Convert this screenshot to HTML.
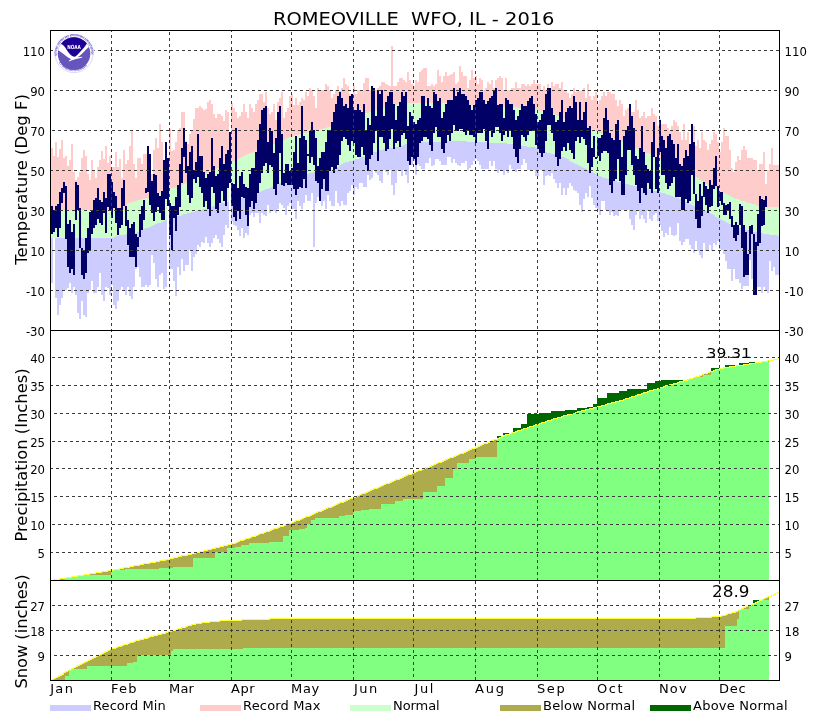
<!DOCTYPE html>
<html lang="en"><head><meta charset="utf-8"><title>ROMEOVILLE WFO, IL - 2016</title>
<style>html,body{margin:0;padding:0;background:#fff}svg{display:block}</style>
</head><body>
<svg width="829" height="720" viewBox="0 0 829 720" font-family='"DejaVu Sans", "Liberation Sans", sans-serif' fill="#000">
<rect width="829" height="720" fill="#fff"/>
<g shape-rendering="crispEdges">
<path d="M51 148H53L53 156H55L55 142H57L57 157H59L59 149H61L61 140H63L63 158H65L65 156H67L67 166H69L69 160H71L71 144H73L73 172H75L75 180H77L77 177H79L79 172H81L81 158H83L83 150H85L85 156H87L87 174H89L89 180H91L91 160H93L93 171H95L95 178H97L97 167H99L99 160H101L101 151H103L103 159H105L105 146H107L107 163H109L109 156H111L111 167H113L113 167H115L115 152H117L117 167H119L119 159H121L121 178H123L123 150H125L125 164H127L127 160H129L129 146H131L131 131H133L133 164H135L135 178H137L137 158H139L139 158H141L141 164H143L143 154H145L145 154H147L147 154H149L149 154H151L151 174H153L153 150H155L155 138H157L157 148H159L159 124H161L161 142H163L163 170H165L165 179H167L167 190H165L165 191H163L163 192H161L161 193H159L159 194H157L157 195H155L155 196H153L153 196H151L151 197H149L149 198H147L147 198H145L145 199H143L143 199H141L141 200H139L139 200H137L137 201H135L135 202H133L133 202H131L131 203H129L129 203H127L127 210H125L125 210H123L123 210H121L121 210H119L119 210H117L117 210H115L115 210H113L113 210H111L111 210H109L109 210H107L107 210H105L105 210H103L103 210H101L101 210H99L99 210H97L97 210H95L95 210H93L93 210H91L91 210H89L89 210H87L87 210H85L85 210H83L83 210H81L81 210H79L79 210H77L77 210H75L75 210H73L73 210H71L71 210H69L69 210H67L67 210H65L65 210H63L63 210H61L61 210H59L59 210H57L57 210H55L55 210H53L53 210H51ZM169 129H171L171 151H173L173 150H175L175 142H177L177 130H179L179 128H181L181 112H183L183 112H185L185 141H187L187 144H189L189 134H191L191 131H193L193 119H195L195 108H197L197 108H199L199 106H201L201 108H203L203 110H205L205 109H207L207 102H209L209 100H211L211 104H213L213 114H215L215 118H217L217 114H219L219 114H221L221 116H223L223 121H225L225 110H227L227 112H229L229 163H227L227 164H225L225 165H223L223 166H221L221 167H219L219 168H217L217 169H215L215 170H213L213 171H211L211 172H209L209 173H207L207 174H205L205 175H203L203 176H201L201 177H199L199 177H197L197 178H195L195 179H193L193 180H191L191 181H189L189 182H187L187 183H185L185 184H183L183 185H181L181 186H179L179 186H177L177 187H175L175 188H173L173 188H171L171 189H169ZM231 103H233L233 108H235L235 112H237L237 118H239L239 116H241L241 112H243L243 104H245L245 112H247L247 118H249L249 104H251L251 108H253L253 112H255L255 104H257L257 100H259L259 94H261L261 94H263L263 102H265L265 92H267L267 108H269L269 114H271L271 112H273L273 104H275L275 120H277L277 102H279L279 98H281L281 92H283L283 118H285L285 112H287L287 108H289L289 96H291L291 94H293L293 105H295L295 98H297L297 105H299L299 102H301L301 98H303L303 100H305L305 92H307L307 96H309L309 88H311L311 90H313L313 96H315L315 108H317L317 88H319L319 90H321L321 90H323L323 90H325L325 84H327L327 86H329L329 90H331L331 98H333L333 94H335L335 90H337L337 86H339L339 91H341L341 88H343L343 78H345L345 84H347L347 86H349L349 94H351L351 94H353L353 86H355L355 94H357L357 90H359L359 90H361L361 91H363L363 83H365L365 78H367L367 78H369L369 90H371L371 86H373L373 88H375L375 90H377L377 88H379L379 86H381L381 82H383L383 82H385L385 84H387L387 85H389L389 86H391L391 46H393L393 86H395L395 86H397L397 82H399L399 78H401L401 78H403L403 80H405L405 82H407L407 72H409L409 80H411L411 84H413L413 86H415L415 80H417L417 82H419L419 72H421L421 70H423L423 68H425L425 68H427L427 86H429L429 86H431L431 84H433L433 86H435L435 84H437L437 70H439L439 76H441L441 82H443L443 76H445L445 72H447L447 76H449L449 75H451L451 74H453L453 72H455L455 84H457L457 82H459L459 66H461L461 72H463L463 76H465L465 76H467L467 88H469L469 80H471L471 70H473L473 78H475L475 76H477L477 84H479L479 78H481L481 80H483L483 90H485L485 88H487L487 82H489L489 84H491L491 80H493L493 88H495L495 80H497L497 78H499L499 76H501L501 78H503L503 90H505L505 78H507L507 90H509L509 90H511L511 88H513L513 88H515L515 82H517L517 88H519L519 88H521L521 84H523L523 84H525L525 86H527L527 84H529L529 86H531L531 84H533L533 80H535L535 84H537L537 84H539L539 84H541L541 90H543L543 86H545L545 90H547L547 84H549L549 88H551L551 82H553L553 86H555L555 84H557L557 84H559L559 88H561L561 82H563L563 90H565L565 90H567L567 93H569L569 98H571L571 94H573L573 88H575L575 92H577L577 91H579L579 91H581L581 91H583L583 88H585L585 98H587L587 84H589L589 96H591L591 100H593L593 96H595L595 92H597L597 104H599L599 100H601L601 96H603L603 92H605L605 96H607L607 92H609L609 92H611L611 94H613L613 94H615L615 100H617L617 106H619L619 100H621L621 104H623L623 116H625L625 110H627L627 108H629L629 108H631L631 112H633L633 112H635L635 100H637L637 110H639L639 118H641L641 116H643L643 112H645L645 118H647L647 116H649L649 116H651L651 108H653L653 114H655L655 116H657L657 126H659L659 119H661L661 124H663L663 124H665L665 124H667L667 128H669L669 131H671L671 126H673L673 120H675L675 122H677L677 126H679L679 132H681L681 140H683L683 124H685L685 140H687L687 132H689L689 144H691L691 125H693L693 126H695L695 146H697L697 140H699L699 148H701L701 132H703L703 140H705L705 142H707L707 150H709L709 144H711L711 140H713L713 132H715L715 134H717L717 142H719L719 152H721L721 142H723L723 128H725L725 136H727L727 136H729L729 150H731L731 168H733L733 172H735L735 162H737L737 156H739L739 160H741L741 150H743L743 146H745L745 150H747L747 158H749L749 158H751L751 158H753L753 160H755L755 160H757L757 170H759L759 164H761L761 164H763L763 152H765L765 184H767L767 170H769L769 164H771L771 148H773L773 165H775L775 165H777L777 165H779L779 207H777L777 207H775L775 207H773L773 207H771L771 207H769L769 207H767L767 207H765L765 207H763L763 206H761L761 206H759L759 206H757L757 205H755L755 204H753L753 204H751L751 203H749L749 203H747L747 202H745L745 201H743L743 201H741L741 200H739L739 199H737L737 199H735L735 198H733L733 197H731L731 196H729L729 195H727L727 194H725L725 193H723L723 192H721L721 191H719L719 190H717L717 188H715L715 188H713L713 187H711L711 186H709L709 185H707L707 184H705L705 183H703L703 181H701L701 180H699L699 178H697L697 177H695L695 176H693L693 175H691L691 174H689L689 173H687L687 172H685L685 171H683L683 170H681L681 169H679L679 168H677L677 167H675L675 166H673L673 165H671L671 164H669L669 163H667L667 162H665L665 161H663L663 160H661L661 159H659L659 158H657L657 157H655L655 156H653L653 155H651L651 154H649L649 153H647L647 153H645L645 152H643L643 151H641L641 150H639L639 149H637L637 148H635L635 147H633L633 146H631L631 145H629L629 145H627L627 144H625L625 143H623L623 142H621L621 141H619L619 140H617L617 139H615L615 139H613L613 138H611L611 137H609L609 136H607L607 135H605L605 134H603L603 134H601L601 133H599L599 132H597L597 131H595L595 130H593L593 129H591L591 129H589L589 128H587L587 127H585L585 126H583L583 126H581L581 125H579L579 124H577L577 123H575L575 123H573L573 122H571L571 121H569L569 120H567L567 120H565L565 119H563L563 118H561L561 117H559L559 116H557L557 115H555L555 114H553L553 114H551L551 113H549L549 113H547L547 112H545L545 112H543L543 111H541L541 111H539L539 110H537L537 110H535L535 110H533L533 110H531L531 109H529L529 109H527L527 109H525L525 108H523L523 108H521L521 108H519L519 108H517L517 107H515L515 107H513L513 107H511L511 107H509L509 107H507L507 107H505L505 107H503L503 107H501L501 106H499L499 106H497L497 106H495L495 106H493L493 106H491L491 106H489L489 106H487L487 106H485L485 106H483L483 106H481L481 106H479L479 105H477L477 105H475L475 105H473L473 105H471L471 105H469L469 105H467L467 105H465L465 105H463L463 104H461L461 104H459L459 104H457L457 104H455L455 104H453L453 103H451L451 103H449L449 103H447L447 103H445L445 103H443L443 103H441L441 103H439L439 103H437L437 103H435L435 103H433L433 103H431L431 103H429L429 103H427L427 103H425L425 103H423L423 103H421L421 103H419L419 103H417L417 103H415L415 103H413L413 103H411L411 103H409L409 103H407L407 103H405L405 103H403L403 104H401L401 104H399L399 104H397L397 105H395L395 105H393L393 106H391L391 106H389L389 107H387L387 107H385L385 108H383L383 108H381L381 109H379L379 110H377L377 110H375L375 111H373L373 111H371L371 112H369L369 113H367L367 113H365L365 114H363L363 115H361L361 115H359L359 116H357L357 117H355L355 118H353L353 118H351L351 119H349L349 120H347L347 121H345L345 121H343L343 122H341L341 123H339L339 124H337L337 125H335L335 125H333L333 126H331L331 127H329L329 127H327L327 128H325L325 128H323L323 129H321L321 129H319L319 130H317L317 130H315L315 130H313L313 131H311L311 131H309L309 132H307L307 133H305L305 133H303L303 134H301L301 134H299L299 135H297L297 135H295L295 136H293L293 137H291L291 137H289L289 138H287L287 139H285L285 140H283L283 140H281L281 141H279L279 142H277L277 143H275L275 144H273L273 144H271L271 145H269L269 146H267L267 147H265L265 148H263L263 148H261L261 149H259L259 150H257L257 151H255L255 152H253L253 153H251L251 153H249L249 154H247L247 155H245L245 156H243L243 157H241L241 158H239L239 159H237L237 160H235L235 161H233L233 161H231Z" fill="#ffcccc"/>
<path d="M51 238H53L53 238H55L55 238H57L57 238H59L59 238H61L61 238H63L63 238H65L65 238H67L67 238H69L69 238H71L71 238H73L73 238H75L75 238H77L77 238H79L79 238H81L81 238H83L83 238H85L85 238H87L87 238H89L89 238H91L91 238H93L93 238H95L95 238H97L97 238H99L99 238H101L101 238H103L103 238H105L105 238H107L107 238H109L109 238H111L111 238H113L113 237H115L115 236H117L117 236H119L119 235H121L121 235H123L123 235H125L125 234H127L127 234H129L129 234H131L131 233H133L133 233H135L135 233H137L137 232H139L139 231H141L141 230H143L143 229H145L145 228H147L147 228H149L149 227H151L151 226H153L153 225H155L155 224H157L157 223H159L159 223H161L161 222H163L163 221H165L165 220H167L167 287H165L165 289H163L163 273H161L161 275H159L159 287H157L157 279H155L155 263H153L153 255H151L151 285H149L149 287H147L147 285H145L145 287H143L143 287H141L141 277H139L139 267H137L137 269H135L135 287H133L133 299H131L131 296H129L129 287H127L127 295H125L125 290H123L123 287H121L121 290H119L119 301H117L117 309H115L115 305H113L113 285H111L111 295H109L109 288H107L107 287H105L105 301H103L103 295H101L101 273H99L99 287H97L97 293H95L95 293H93L93 281H91L91 290H89L89 293H87L87 317H85L85 315H83L83 301H81L81 319H79L79 313H77L77 295H75L75 287H73L73 293H71L71 283H69L69 288H67L67 290H65L65 291H63L63 298H61L61 305H59L59 315H57L57 298H55L55 238H53L53 283H51ZM169 218H171L171 217H173L173 217H175L175 217H177L177 216H179L179 216H181L181 215H183L183 214H185L185 214H187L187 213H189L189 213H191L191 212H193L193 212H195L195 211H197L197 211H199L199 210H201L201 210H203L203 209H205L205 209H207L207 208H209L209 208H211L211 207H213L213 206H215L215 205H217L217 205H219L219 204H221L221 203H223L223 203H225L225 202H227L227 202H229L229 228H227L227 225H225L225 235H223L223 247H221L221 243H219L219 239H217L217 235H215L215 238H213L213 243H211L211 247H209L209 243H207L207 237H205L205 243H203L203 242H201L201 247H199L199 245H197L197 254H195L195 257H193L193 271H191L191 250H189L189 265H187L187 265H185L185 271H183L183 259H181L181 275H179L179 267H177L177 296H175L175 281H173L173 269H171L171 269H169ZM231 201H233L233 200H235L235 200H237L237 199H239L239 198H241L241 198H243L243 197H245L245 196H247L247 196H249L249 195H251L251 195H253L253 194H255L255 194H257L257 193H259L259 192H261L261 191H263L263 190H265L265 189H267L267 189H269L269 188H271L271 187H273L273 186H275L275 185H277L277 184H279L279 183H281L281 183H283L283 182H285L285 181H287L287 181H289L289 180H291L291 179H293L293 179H295L295 178H297L297 177H299L299 176H301L301 176H303L303 175H305L305 174H307L307 174H309L309 173H311L311 173H313L313 172H315L315 172H317L317 172H319L319 172H321L321 171H323L323 171H325L325 171H327L327 171H329L329 171H331L331 170H333L333 169H335L335 169H337L337 167H339L339 165H341L341 164H343L343 163H345L345 162H347L347 162H349L349 161H351L351 161H353L353 160H355L355 159H357L357 159H359L359 158H361L361 157H363L363 157H365L365 156H367L367 155H369L369 154H371L371 153H373L373 152H375L375 152H377L377 151H379L379 150H381L381 150H383L383 149H385L385 149H387L387 149H389L389 148H391L391 148H393L393 147H395L395 147H397L397 147H399L399 146H401L401 146H403L403 145H405L405 144H407L407 144H409L409 143H411L411 143H413L413 143H415L415 142H417L417 142H419L419 142H421L421 142H423L423 142H425L425 142H427L427 142H429L429 142H431L431 142H433L433 142H435L435 142H437L437 142H439L439 142H441L441 142H443L443 142H445L445 141H447L447 141H449L449 141H451L451 141H453L453 141H455L455 141H457L457 141H459L459 141H461L461 141H463L463 141H465L465 141H467L467 142H469L469 142H471L471 142H473L473 142H475L475 142H477L477 142H479L479 142H481L481 142H483L483 142H485L485 142H487L487 143H489L489 143H491L491 143H493L493 143H495L495 143H497L497 143H499L499 143H501L501 143H503L503 143H505L505 143H507L507 144H509L509 144H511L511 144H513L513 144H515L515 144H517L517 145H519L519 145H521L521 146H523L523 146H525L525 146H527L527 147H529L529 147H531L531 147H533L533 147H535L535 148H537L537 148H539L539 149H541L541 150H543L543 151H545L545 152H547L547 153H549L549 153H551L551 154H553L553 154H555L555 155H557L557 155H559L559 156H561L561 157H563L563 157H565L565 158H567L567 159H569L569 161H571L571 162H573L573 163H575L575 164H577L577 165H579L579 166H581L581 167H583L583 168H585L585 169H587L587 170H589L589 171H591L591 172H593L593 173H595L595 174H597L597 175H599L599 176H601L601 177H603L603 178H605L605 178H607L607 179H609L609 180H611L611 181H613L613 181H615L615 181H617L617 182H619L619 182H621L621 183H623L623 183H625L625 184H627L627 184H629L629 185H631L631 185H633L633 186H635L635 186H637L637 187H639L639 187H641L641 188H643L643 188H645L645 189H647L647 189H649L649 190H651L651 190H653L653 191H655L655 191H657L657 192H659L659 192H661L661 193H663L663 193H665L665 194H667L667 195H669L669 195H671L671 196H673L673 197H675L675 197H677L677 198H679L679 199H681L681 200H683L683 201H685L685 202H687L687 203H689L689 204H691L691 205H693L693 206H695L695 207H697L697 207H699L699 208H701L701 209H703L703 210H705L705 211H707L707 212H709L709 213H711L711 214H713L713 215H715L715 217H717L717 218H719L719 219H721L721 220H723L723 221H725L725 222H727L727 223H729L729 224H731L731 225H733L733 225H735L735 226H737L737 227H739L739 228H741L741 228H743L743 229H745L745 230H747L747 230H749L749 231H751L751 231H753L753 232H755L755 232H757L757 233H759L759 233H761L761 233H763L763 234H765L765 234H767L767 234H769L769 235H771L771 235H773L773 235H775L775 235H777L777 236H779L779 275H777L777 275H775L775 267H773L773 271H771L771 261H769L769 293H767L767 291H765L765 287H763L763 293H761L761 287H759L759 287H757L757 288H755L755 288H753L753 279H751L751 260H749L749 286H747L747 286H745L745 286H743L743 289H741L741 283H739L739 279H737L737 279H735L735 269H733L733 281H731L731 269H729L729 269H727L727 261H725L725 254H723L723 250H721L721 249H719L719 241H717L717 245H715L715 243H713L713 251H711L711 245H709L709 251H707L707 251H705L705 243H703L703 258H701L701 255H699L699 251H697L697 241H695L695 253H693L693 249H691L691 245H689L689 239H687L687 239H685L685 242H683L683 245H681L681 241H679L679 223H677L677 235H675L675 236H673L673 235H671L671 227H669L669 235H667L667 233H665L665 237H663L663 231H661L661 225H659L659 221H657L657 213H655L655 215H653L653 221H651L651 219H649L649 211H647L647 223H645L645 219H643L643 215H641L641 219H639L639 211H637L637 215H635L635 230H633L633 225H631L631 219H629L629 210H627L627 210H625L625 210H623L623 210H621L621 210H619L619 216H617L617 215H615L615 216H613L613 212H611L611 215H609L609 211H607L607 210H605L605 201H603L603 201H601L601 215H599L599 210H597L597 208H595L595 205H593L593 198H591L591 186H589L589 197H587L587 193H585L585 199H583L583 212H581L581 205H579L579 193H577L577 191H575L575 190H573L573 186H571L571 183H569L569 188H567L567 195H565L565 188H563L563 195H561L561 183H559L559 188H557L557 183H555L555 179H553L553 173H551L551 176H549L549 175H547L547 176H545L545 185H543L543 170H541L541 170H539L539 176H537L537 176H535L535 170H533L533 170H531L531 170H529L529 170H527L527 163H525L525 159H523L523 165H521L521 169H519L519 169H517L517 172H515L515 171H513L513 169H511L511 165H509L509 173H507L507 170H505L505 175H503L503 170H501L501 170H499L499 173H497L497 169H495L495 161H493L493 166H491L491 161H489L489 169H487L487 169H485L485 169H483L483 169H481L481 165H479L479 161H477L477 159H475L475 161H473L473 165H471L471 168H469L469 170H467L467 161H465L465 163H463L463 163H461L461 166H459L459 165H457L457 163H455L455 159H453L453 163H451L451 157H449L449 157H447L447 165H445L445 165H443L443 165H441L441 161H439L439 159H437L437 159H435L435 165H433L433 166H431L431 158H429L429 163H427L427 163H425L425 169H423L423 169H421L421 166H419L419 164H417L417 175H415L415 161H413L413 165H411L411 165H409L409 183H407L407 175H405L405 170H403L403 176H401L401 170H399L399 170H397L397 183H395L395 195H393L393 185H391L391 170H389L389 175H387L387 172H385L385 170H383L383 183H381L381 181H379L379 175H377L377 173H375L375 170H373L373 178H371L371 180H369L369 175H367L367 187H365L365 187H363L363 183H361L361 183H359L359 189H357L357 187H355L355 195H353L353 185H351L351 191H349L349 193H347L347 205H345L345 205H343L343 201H341L341 206H339L339 203H337L337 191H335L335 206H333L333 206H331L331 201H329L329 195H327L327 209H325L325 201H323L323 206H321L321 201H319L319 197H317L317 203H315L315 247H313L313 193H311L311 201H309L309 201H307L307 195H305L305 203H303L303 209H301L301 206H299L299 201H297L297 219H295L295 209H293L293 209H291L291 203H289L289 206H287L287 215H285L285 208H283L283 205H281L281 203H279L279 209H277L277 213H275L275 211H273L273 211H271L271 213H269L269 205H267L267 216H265L265 215H263L263 213H261L261 223H259L259 213H257L257 213H255L255 217H253L253 213H251L251 215H249L249 235H247L247 233H245L245 238H243L243 228H241L241 236H239L239 230H237L237 226H235L235 225H233L233 221H231Z" fill="#ccccff"/>
<path d="M51 210H53L53 210H55L55 210H57L57 210H59L59 210H61L61 210H63L63 210H65L65 210H67L67 210H69L69 210H71L71 210H73L73 210H75L75 210H77L77 210H79L79 210H81L81 210H83L83 210H85L85 210H87L87 210H89L89 210H91L91 210H93L93 210H95L95 210H97L97 210H99L99 210H101L101 210H103L103 210H105L105 210H107L107 210H109L109 210H111L111 210H113L113 210H115L115 210H117L117 210H119L119 210H121L121 210H123L123 210H125L125 210H127L127 203H129L129 203H131L131 202H133L133 202H135L135 201H137L137 200H139L139 200H141L141 199H143L143 199H145L145 198H147L147 198H149L149 197H151L151 196H153L153 196H155L155 195H157L157 194H159L159 193H161L161 192H163L163 191H165L165 190H167L167 220H165L165 221H163L163 222H161L161 223H159L159 223H157L157 224H155L155 225H153L153 226H151L151 227H149L149 228H147L147 228H145L145 229H143L143 230H141L141 231H139L139 232H137L137 233H135L135 233H133L133 233H131L131 234H129L129 234H127L127 234H125L125 235H123L123 235H121L121 235H119L119 236H117L117 236H115L115 237H113L113 238H111L111 238H109L109 238H107L107 238H105L105 238H103L103 238H101L101 238H99L99 238H97L97 238H95L95 238H93L93 238H91L91 238H89L89 238H87L87 238H85L85 238H83L83 238H81L81 238H79L79 238H77L77 238H75L75 238H73L73 238H71L71 238H69L69 238H67L67 238H65L65 238H63L63 238H61L61 238H59L59 238H57L57 238H55L55 238H53L53 238H51ZM169 189H171L171 188H173L173 188H175L175 187H177L177 186H179L179 186H181L181 185H183L183 184H185L185 183H187L187 182H189L189 181H191L191 180H193L193 179H195L195 178H197L197 177H199L199 177H201L201 176H203L203 175H205L205 174H207L207 173H209L209 172H211L211 171H213L213 170H215L215 169H217L217 168H219L219 167H221L221 166H223L223 165H225L225 164H227L227 163H229L229 202H227L227 202H225L225 203H223L223 203H221L221 204H219L219 205H217L217 205H215L215 206H213L213 207H211L211 208H209L209 208H207L207 209H205L205 209H203L203 210H201L201 210H199L199 211H197L197 211H195L195 212H193L193 212H191L191 213H189L189 213H187L187 214H185L185 214H183L183 215H181L181 216H179L179 216H177L177 217H175L175 217H173L173 217H171L171 218H169ZM231 161H233L233 161H235L235 160H237L237 159H239L239 158H241L241 157H243L243 156H245L245 155H247L247 154H249L249 153H251L251 153H253L253 152H255L255 151H257L257 150H259L259 149H261L261 148H263L263 148H265L265 147H267L267 146H269L269 145H271L271 144H273L273 144H275L275 143H277L277 142H279L279 141H281L281 140H283L283 140H285L285 139H287L287 138H289L289 137H291L291 137H293L293 136H295L295 135H297L297 135H299L299 134H301L301 134H303L303 133H305L305 133H307L307 132H309L309 131H311L311 131H313L313 130H315L315 130H317L317 130H319L319 129H321L321 129H323L323 128H325L325 128H327L327 127H329L329 127H331L331 126H333L333 125H335L335 125H337L337 124H339L339 123H341L341 122H343L343 121H345L345 121H347L347 120H349L349 119H351L351 118H353L353 118H355L355 117H357L357 116H359L359 115H361L361 115H363L363 114H365L365 113H367L367 113H369L369 112H371L371 111H373L373 111H375L375 110H377L377 110H379L379 109H381L381 108H383L383 108H385L385 107H387L387 107H389L389 106H391L391 106H393L393 105H395L395 105H397L397 104H399L399 104H401L401 104H403L403 103H405L405 103H407L407 103H409L409 103H411L411 103H413L413 103H415L415 103H417L417 103H419L419 103H421L421 103H423L423 103H425L425 103H427L427 103H429L429 103H431L431 103H433L433 103H435L435 103H437L437 103H439L439 103H441L441 103H443L443 103H445L445 103H447L447 103H449L449 103H451L451 103H453L453 104H455L455 104H457L457 104H459L459 104H461L461 104H463L463 105H465L465 105H467L467 105H469L469 105H471L471 105H473L473 105H475L475 105H477L477 105H479L479 106H481L481 106H483L483 106H485L485 106H487L487 106H489L489 106H491L491 106H493L493 106H495L495 106H497L497 106H499L499 106H501L501 107H503L503 107H505L505 107H507L507 107H509L509 107H511L511 107H513L513 107H515L515 107H517L517 108H519L519 108H521L521 108H523L523 108H525L525 109H527L527 109H529L529 109H531L531 110H533L533 110H535L535 110H537L537 110H539L539 111H541L541 111H543L543 112H545L545 112H547L547 113H549L549 113H551L551 114H553L553 114H555L555 115H557L557 116H559L559 117H561L561 118H563L563 119H565L565 120H567L567 120H569L569 121H571L571 122H573L573 123H575L575 123H577L577 124H579L579 125H581L581 126H583L583 126H585L585 127H587L587 128H589L589 129H591L591 129H593L593 130H595L595 131H597L597 132H599L599 133H601L601 134H603L603 134H605L605 135H607L607 136H609L609 137H611L611 138H613L613 139H615L615 139H617L617 140H619L619 141H621L621 142H623L623 143H625L625 144H627L627 145H629L629 145H631L631 146H633L633 147H635L635 148H637L637 149H639L639 150H641L641 151H643L643 152H645L645 153H647L647 153H649L649 154H651L651 155H653L653 156H655L655 157H657L657 158H659L659 159H661L661 160H663L663 161H665L665 162H667L667 163H669L669 164H671L671 165H673L673 166H675L675 167H677L677 168H679L679 169H681L681 170H683L683 171H685L685 172H687L687 173H689L689 174H691L691 175H693L693 176H695L695 177H697L697 178H699L699 180H701L701 181H703L703 183H705L705 184H707L707 185H709L709 186H711L711 187H713L713 188H715L715 188H717L717 190H719L719 191H721L721 192H723L723 193H725L725 194H727L727 195H729L729 196H731L731 197H733L733 198H735L735 199H737L737 199H739L739 200H741L741 201H743L743 201H745L745 202H747L747 203H749L749 203H751L751 204H753L753 204H755L755 205H757L757 206H759L759 206H761L761 206H763L763 207H765L765 207H767L767 207H769L769 207H771L771 207H773L773 207H775L775 207H777L777 207H779L779 236H777L777 235H775L775 235H773L773 235H771L771 235H769L769 234H767L767 234H765L765 234H763L763 233H761L761 233H759L759 233H757L757 232H755L755 232H753L753 231H751L751 231H749L749 230H747L747 230H745L745 229H743L743 228H741L741 228H739L739 227H737L737 226H735L735 225H733L733 225H731L731 224H729L729 223H727L727 222H725L725 221H723L723 220H721L721 219H719L719 218H717L717 217H715L715 215H713L713 214H711L711 213H709L709 212H707L707 211H705L705 210H703L703 209H701L701 208H699L699 207H697L697 207H695L695 206H693L693 205H691L691 204H689L689 203H687L687 202H685L685 201H683L683 200H681L681 199H679L679 198H677L677 197H675L675 197H673L673 196H671L671 195H669L669 195H667L667 194H665L665 193H663L663 193H661L661 192H659L659 192H657L657 191H655L655 191H653L653 190H651L651 190H649L649 189H647L647 189H645L645 188H643L643 188H641L641 187H639L639 187H637L637 186H635L635 186H633L633 185H631L631 185H629L629 184H627L627 184H625L625 183H623L623 183H621L621 182H619L619 182H617L617 181H615L615 181H613L613 181H611L611 180H609L609 179H607L607 178H605L605 178H603L603 177H601L601 176H599L599 175H597L597 174H595L595 173H593L593 172H591L591 171H589L589 170H587L587 169H585L585 168H583L583 167H581L581 166H579L579 165H577L577 164H575L575 163H573L573 162H571L571 161H569L569 159H567L567 158H565L565 157H563L563 157H561L561 156H559L559 155H557L557 155H555L555 154H553L553 154H551L551 153H549L549 153H547L547 152H545L545 151H543L543 150H541L541 149H539L539 148H537L537 148H535L535 147H533L533 147H531L531 147H529L529 147H527L527 146H525L525 146H523L523 146H521L521 145H519L519 145H517L517 144H515L515 144H513L513 144H511L511 144H509L509 144H507L507 143H505L505 143H503L503 143H501L501 143H499L499 143H497L497 143H495L495 143H493L493 143H491L491 143H489L489 143H487L487 142H485L485 142H483L483 142H481L481 142H479L479 142H477L477 142H475L475 142H473L473 142H471L471 142H469L469 142H467L467 141H465L465 141H463L463 141H461L461 141H459L459 141H457L457 141H455L455 141H453L453 141H451L451 141H449L449 141H447L447 141H445L445 142H443L443 142H441L441 142H439L439 142H437L437 142H435L435 142H433L433 142H431L431 142H429L429 142H427L427 142H425L425 142H423L423 142H421L421 142H419L419 142H417L417 142H415L415 143H413L413 143H411L411 143H409L409 144H407L407 144H405L405 145H403L403 146H401L401 146H399L399 147H397L397 147H395L395 147H393L393 148H391L391 148H389L389 149H387L387 149H385L385 149H383L383 150H381L381 150H379L379 151H377L377 152H375L375 152H373L373 153H371L371 154H369L369 155H367L367 156H365L365 157H363L363 157H361L361 158H359L359 159H357L357 159H355L355 160H353L353 161H351L351 161H349L349 162H347L347 162H345L345 163H343L343 164H341L341 165H339L339 167H337L337 169H335L335 169H333L333 170H331L331 171H329L329 171H327L327 171H325L325 171H323L323 171H321L321 172H319L319 172H317L317 172H315L315 172H313L313 173H311L311 173H309L309 174H307L307 174H305L305 175H303L303 176H301L301 176H299L299 177H297L297 178H295L295 179H293L293 179H291L291 180H289L289 181H287L287 181H285L285 182H283L283 183H281L281 183H279L279 184H277L277 185H275L275 186H273L273 187H271L271 188H269L269 189H267L267 189H265L265 190H263L263 191H261L261 192H259L259 193H257L257 194H255L255 194H253L253 195H251L251 195H249L249 196H247L247 196H245L245 197H243L243 198H241L241 198H239L239 199H237L237 200H235L235 200H233L233 201H231Z" fill="#ccffcc"/>
<path d="M51 206H53L53 210H55L55 206H57L57 204H59L59 192H61L61 188H63L63 182H65L65 186H67L67 224H69L69 220H71L71 232H73L73 224H75L75 182H77L77 185H79L79 208H81L81 248H83L83 251H85L85 238H87L87 228H89L89 212H91L91 211H93L93 200H95L95 198H97L97 188H99L99 200H101L101 202H103L103 192H105L105 198H107L107 174H109L109 174H111L111 182H113L113 192H115L115 196H117L117 208H119L119 208H121L121 188H123L123 180H125L125 206H127L127 220H129L129 228H131L131 224H133L133 222H135L135 234H137L137 237H139L139 214H141L141 206H143L143 200H145L145 188H147L147 146H149L149 154H151L151 181H153L153 174H155L155 175H157L157 193H159L159 196H161L161 191H163L163 160H165L165 142H167L167 158H169L169 203H171L171 206H173L173 206H175L175 197H177L177 185H179L179 164H181L181 148H183L183 128H185L185 142H187L187 166H189L189 152H191L191 146H193L193 170H195L195 162H197L197 134H199L199 156H201L201 156H203L203 172H205L205 178H207L207 174H209L209 172H211L211 138H213L213 166H215L215 176H217L217 174H219L219 158H221L221 146H223L223 164H225L225 154H227L227 150H229L229 132H231L231 183H233L233 184H235L235 128H237L237 188H239L239 176H241L241 172H243L243 184H245L245 187H247L247 188H249L249 174H251L251 168H253L253 168H255L255 152H257L257 140H259L259 124H261L261 110H263L263 108H265L265 106H267L267 142H269L269 128H271L271 131H273L273 153H275L275 138H277L277 112H279L279 106H281L281 134H283L283 173H285L285 164H287L287 164H289L289 171H291L291 168H293L293 152H295L295 136H297L297 163H299L299 138H301L301 106H303L303 136H305L305 140H307L307 154H309L309 131H311L311 122H313L313 130H315L315 138H317L317 166H319L319 158H321L321 152H323L323 152H325L325 142H327L327 130H329L329 130H331L331 122H333L333 112H335L335 104H337L337 96H339L339 92H341L341 98H343L343 106H345L345 104H347L347 108H349L349 96H351L351 94H353L353 110H355L355 110H357L357 104H359L359 110H361L361 112H363L363 104H365L365 130H367L367 118H369L369 125H371L371 86H373L373 88H375L375 116H377L377 90H379L379 94H381L381 90H383L383 116H385L385 102H387L387 96H389L389 92H391L391 92H393L393 104H395L395 120H397L397 106H399L399 102H401L401 92H403L403 96H405L405 92H407L407 126H409L409 112H411L411 116H413L413 122H415L415 124H417L417 120H419L419 118H421L421 96H423L423 96H425L425 106H427L427 98H429L429 106H431L431 108H433L433 92H435L435 94H437L437 101H439L439 98H441L441 118H443L443 112H445L445 104H447L447 100H449L449 100H451L451 100H453L453 88H455L455 96H457L457 92H459L459 88H461L461 94H463L463 94H465L465 96H467L467 100H469L469 105H471L471 110H473L473 105H475L475 100H477L477 98H479L479 92H481L481 92H483L483 100H485L485 104H487L487 101H489L489 98H491L491 96H493L493 90H495L495 88H497L497 105H499L499 104H501L501 104H503L503 118H505L505 98H507L507 100H509L509 104H511L511 104H513L513 110H515L515 120H517L517 116H519L519 110H521L521 104H523L523 106H525L525 106H527L527 101H529L529 98H531L531 96H533L533 104H535L535 114H537L537 122H539L539 120H541L541 114H543L543 110H545L545 94H547L547 88H549L549 88H551L551 108H553L553 115H555L555 122H557L557 120H559L559 112H561L561 100H563L563 122H565L565 112H567L567 108H569L569 106H571L571 108H573L573 96H575L575 102H577L577 120H579L579 102H581L581 120H583L583 112H585L585 102H587L587 128H589L589 126H591L591 148H593L593 136H595L595 157H597L597 138H599L599 138H601L601 135H603L603 118H605L605 108H607L607 120H609L609 133H611L611 138H613L613 140H615L615 124H617L617 120H619L619 140H621L621 157H623L623 136H625L625 130H627L627 126H629L629 104H631L631 116H633L633 128H635L635 156H637L637 159H639L639 148H641L641 126H643L643 152H645L645 165H647L647 169H649L649 171H651L651 142H653L653 122H655L655 157H657L657 148H659L659 120H661L661 136H663L663 140H665L665 148H667L667 136H669L669 134H671L671 140H673L673 144H675L675 158H677L677 144H679L679 164H681L681 166H683L683 158H685L685 150H687L687 156H689L689 144H691L691 124H693L693 142H695L695 194H697L697 201H699L699 184H701L701 196H703L703 182H705L705 186H707L707 189H709L709 180H711L711 185H713L713 168H715L715 156H717L717 186H719L719 192H721L721 192H723L723 203H725L725 205H727L727 204H729L729 202H731L731 216H733L733 225H735L735 222H737L737 225H739L739 204H741L741 206H743L743 225H745L745 232H747L747 254H749L749 226H751L751 225H753L753 234H755L755 242H757L757 214H759L759 196H761L761 199H763L763 200H765L765 196H767L767 207H765L765 225H763L763 226H761L761 243H759L759 246H757L757 295H755L755 295H753L753 234H751L751 254H749L749 275H747L747 275H745L745 277H743L743 248H741L741 225H739L739 235H737L737 241H735L735 238H733L733 227H731L731 219H729L729 211H727L727 215H725L725 215H723L723 205H721L721 201H719L719 207H717L717 186H715L715 189H713L713 206H711L711 207H709L709 213H707L707 205H705L705 197H703L703 216H701L701 228H699L699 228H697L697 219H695L695 194H693L693 175H691L691 201H689L689 203H687L687 199H685L685 210H683L683 210H681L681 197H679L679 197H677L677 197H675L675 177H673L673 183H671L671 186H669L669 189H667L667 183H665L665 175H663L663 175H661L661 152H659L659 193H657L657 189H655L655 157H653L653 193H651L651 189H649L649 183H647L647 195H645L645 193H643L643 188H641L641 203H639L639 191H637L637 185H635L635 175H633L633 165H631L631 150H629L629 150H627L627 175H625L625 195H623L623 195H621L621 181H619L619 159H617L617 179H615L615 181H613L613 193H611L611 185H609L609 153H607L607 151H605L605 151H603L603 153H601L601 161H599L599 156H597L597 159H595L595 157H593L593 167H591L591 173H589L589 163H587L587 145H585L585 139H583L583 137H581L581 143H579L579 137H577L577 141H575L575 159H573L573 153H571L571 150H569L569 143H567L567 151H565L565 147H563L563 151H561L561 159H559L559 166H557L557 157H555L555 141H553L553 133H551L551 125H549L549 125H547L547 141H545L545 153H543L543 157H541L541 153H539L539 149H537L537 145H535L535 131H533L533 131H531L531 131H529L529 135H527L527 141H525L525 137H523L523 135H521L521 149H519L519 163H517L517 157H515L515 149H513L513 137H511L511 131H509L509 137H507L507 131H505L505 135H503L503 141H501L501 133H499L499 127H497L497 127H495L495 133H493L493 137H491L491 131H489L489 149H487L487 141H485L485 129H483L483 133H481L481 133H479L479 133H477L477 143H475L475 137H473L473 135H471L471 135H469L469 131H467L467 135H465L465 132H463L463 129H461L461 129H459L459 131H457L457 131H455L455 125H453L453 133H451L451 141H449L449 135H447L447 143H445L445 153H443L443 149H441L441 137H439L439 137H437L437 127H435L435 133H433L433 151H431L431 145H429L429 139H427L427 137H425L425 137H423L423 141H421L421 143H419L419 157H417L417 165H415L415 159H413L413 157H411L411 165H409L409 161H407L407 139H405L405 133H403L403 135H401L401 147H399L399 141H397L397 143H395L395 149H393L393 129H391L391 139H389L389 149H387L387 151H385L385 143H383L383 137H381L381 137H379L379 161H377L377 131H375L375 143H373L373 155H371L371 159H369L369 171H367L367 165H365L365 155H363L363 147H361L361 157H359L359 157H357L357 155H355L355 143H353L353 141H351L351 151H349L349 145H347L347 139H345L345 137H343L343 141H341L341 155H339L339 165H337L337 169H335L335 173H333L333 167H331L331 171H329L329 191H327L327 191H325L325 179H323L323 189H321L321 201H319L319 183H317L317 181H315L315 165H313L313 157H311L311 163H309L309 156H307L307 188H305L305 179H303L303 188H301L301 187H299L299 189H297L297 195H295L295 189H293L293 185H291L291 185H289L289 185H287L287 183H285L285 186H283L283 185H281L281 153H279L279 184H277L277 195H275L275 189H273L273 167H271L271 165H269L269 173H267L267 163H265L265 166H263L263 173H261L261 183H259L259 193H257L257 203H255L255 209H253L253 201H251L251 207H249L249 226H247L247 215H245L245 198H243L243 197H241L241 219H239L239 211H237L237 221H235L235 217H233L233 206H231L231 183H229L229 188H227L227 206H225L225 201H223L223 191H221L221 203H219L219 213H217L217 209H215L215 193H213L213 187H211L211 216H209L209 209H207L207 201H205L205 207H203L203 193H201L201 187H199L199 177H197L197 183H195L195 179H193L193 198H191L191 203H189L189 195H187L187 173H185L185 157H183L183 183H181L181 207H179L179 215H177L177 231H175L175 218H173L173 250H171L171 235H169L169 206H167L167 199H165L165 220H163L163 220H161L161 213H159L159 207H157L157 212H155L155 221H153L153 213H151L151 205H149L149 192H147L147 193H145L145 220H143L143 230H141L141 237H139L139 247H137L137 267H135L135 257H133L133 257H131L131 257H129L129 245H127L127 226H125L125 206H123L123 225H121L121 228H119L119 235H117L117 223H115L115 208H113L113 218H111L111 210H109L109 207H107L107 233H105L105 213H103L103 225H101L101 223H99L99 219H97L97 225H95L95 228H93L93 234H91L91 250H89L89 253H87L87 273H85L85 279H83L83 275H81L81 248H79L79 210H77L77 220H75L75 275H73L73 269H71L71 273H69L69 267H67L67 239H65L65 193H63L63 203H61L61 228H59L59 237H57L57 228H55L55 232H53L53 234H51Z" fill="#000066"/>
<path d="M51 580H53L53 580H55L55 580H57L57 580H59L59 580H61L61 580H63L63 580H65L65 578H67L67 578H69L69 578H71L71 576H73L73 576H75L75 576H77L77 576H79L79 576H81L81 576H83L83 575H85L85 575H87L87 575H89L89 575H91L91 575H93L93 575H95L95 575H97L97 575H99L99 575H101L101 575H103L103 575H105L105 575H107L107 575H109L109 575H111L111 570H113L113 570H115L115 570H117L117 570H119L119 570H121L121 570H123L123 570H125L125 569H127L127 569H129L129 569H131L131 569H133L133 569H135L135 569H137L137 569H139L139 569H141L141 569H143L143 569H145L145 569H147L147 569H149L149 569H151L151 569H153L153 569H155L155 569H157L157 569H159L159 568H161L161 568H163L163 568H165L165 568H167L167 568H169L169 568H171L171 568H173L173 567H175L175 567H177L177 567H179L179 567H181L181 567H183L183 567H185L185 567H187L187 567H189L189 567H191L191 567H193L193 558H195L195 558H197L197 558H199L199 558H201L201 558H203L203 558H205L205 558H207L207 558H209L209 558H211L211 558H213L213 558H215L215 552H217L217 552H219L219 552H221L221 552H223L223 552H225L225 552H227L227 548H229L229 548H231L231 548H233L233 548H235L235 547H237L237 547H239L239 547H241L241 545H243L243 545H245L245 545H247L247 545H249L249 543H251L251 543H253L253 543H255L255 543H257L257 543H259L259 543H261L261 543H263L263 543H265L265 543H267L267 543H269L269 542H271L271 542H273L273 542H275L275 542H277L277 542H279L279 542H281L281 542H283L283 536H285L285 536H287L287 536H289L289 530H291L291 530H293L293 530H295L295 530H297L297 530H299L299 529H301L301 529H303L303 529H305L305 528H307L307 524H309L309 524H311L311 520H313L313 520H315L315 518H317L317 518H319L319 518H321L321 518H323L323 518H325L325 518H327L327 518H329L329 518H331L331 518H333L333 518H335L335 518H337L337 518H339L339 516H341L341 516H343L343 516H345L345 515H347L347 515H349L349 515H351L351 515H353L353 511H355L355 511H357L357 511H359L359 511H361L361 510H363L363 510H365L365 510H367L367 510H369L369 509H371L371 509H373L373 509H375L375 509H377L377 509H379L379 509H381L381 504H383L383 504H385L385 504H387L387 504H389L389 504H391L391 504H393L393 504H395L395 501H397L397 501H399L399 501H401L401 501H403L403 499H405L405 499H407L407 499H409L409 499H411L411 499H413L413 499H415L415 499H417L417 499H419L419 499H421L421 499H423L423 492H425L425 492H427L427 492H429L429 492H431L431 492H433L433 492H435L435 492H437L437 486H439L439 486H441L441 486H443L443 486H445L445 478H447L447 478H449L449 478H451L451 478H453L453 469H455L455 469H457L457 463H459L459 463H461L461 463H463L463 463H465L465 463H467L467 463H469L469 459H471L471 459H473L473 459H475L475 457H477L477 457H479L479 457H481L481 457H483L483 457H485L485 457H487L487 457H489L489 457H491L491 457H493L493 457H495L495 457H497L497 438H499L499 437H501L501 436H503L503 435H505L505 434H507L507 434H509L509 433H511L511 433H513L513 432H515L515 431H517L517 430H519L519 430H521L521 429H523L523 428H525L525 428H527L527 427H529L529 426H531L531 426H533L533 425H535L535 424H537L537 424H539L539 423H541L541 422H543L543 422H545L545 421H547L547 420H549L549 420H551L551 419H553L553 418H555L555 418H557L557 417H559L559 417H561L561 416H563L563 415H565L565 415H567L567 414H569L569 414H571L571 413H573L573 413H575L575 412H577L577 411H579L579 411H581L581 410H583L583 410H585L585 409H587L587 409H589L589 408H591L591 408H593L593 407H595L595 407H597L597 406H599L599 406H601L601 405H603L603 405H605L605 404H607L607 403H609L609 403H611L611 402H613L613 402H615L615 401H617L617 401H619L619 400H621L621 400H623L623 399H625L625 398H627L627 398H629L629 397H631L631 396H633L633 396H635L635 395H637L637 394H639L639 394H641L641 393H643L643 392H645L645 392H647L647 391H649L649 390H651L651 390H653L653 389H655L655 389H657L657 388H659L659 387H661L661 387H663L663 386H665L665 385H667L667 385H669L669 384H671L671 384H673L673 383H675L675 383H677L677 382H679L679 381H681L681 381H683L683 380H685L685 380H687L687 379H689L689 379H691L691 379H693L693 379H695L695 377H697L697 377H699L699 377H701L701 377H703L703 375H705L705 375H707L707 375H709L709 375H711L711 371H713L713 370H715L715 369H717L717 369H719L719 368H721L721 368H723L723 368H725L725 367H727L727 367H729L729 366H731L731 366H733L733 366H735L735 365H737L737 365H739L739 365H741L741 365H743L743 364H745L745 364H747L747 364H749L749 363H751L751 363H753L753 363H755L755 362H757L757 362H759L759 362H761L761 362H763L763 362H765L765 362H767L767 362H769L769 580H767L767 580H765L765 580H763L763 580H761L761 580H759L759 580H757L757 580H755L755 580H753L753 580H751L751 580H749L749 580H747L747 580H745L745 580H743L743 580H741L741 580H739L739 580H737L737 580H735L735 580H733L733 580H731L731 580H729L729 580H727L727 580H725L725 580H723L723 580H721L721 580H719L719 580H717L717 580H715L715 580H713L713 580H711L711 580H709L709 580H707L707 580H705L705 580H703L703 580H701L701 580H699L699 580H697L697 580H695L695 580H693L693 580H691L691 580H689L689 580H687L687 580H685L685 580H683L683 580H681L681 580H679L679 580H677L677 580H675L675 580H673L673 580H671L671 580H669L669 580H667L667 580H665L665 580H663L663 580H661L661 580H659L659 580H657L657 580H655L655 580H653L653 580H651L651 580H649L649 580H647L647 580H645L645 580H643L643 580H641L641 580H639L639 580H637L637 580H635L635 580H633L633 580H631L631 580H629L629 580H627L627 580H625L625 580H623L623 580H621L621 580H619L619 580H617L617 580H615L615 580H613L613 580H611L611 580H609L609 580H607L607 580H605L605 580H603L603 580H601L601 580H599L599 580H597L597 580H595L595 580H593L593 580H591L591 580H589L589 580H587L587 580H585L585 580H583L583 580H581L581 580H579L579 580H577L577 580H575L575 580H573L573 580H571L571 580H569L569 580H567L567 580H565L565 580H563L563 580H561L561 580H559L559 580H557L557 580H555L555 580H553L553 580H551L551 580H549L549 580H547L547 580H545L545 580H543L543 580H541L541 580H539L539 580H537L537 580H535L535 580H533L533 580H531L531 580H529L529 580H527L527 580H525L525 580H523L523 580H521L521 580H519L519 580H517L517 580H515L515 580H513L513 580H511L511 580H509L509 580H507L507 580H505L505 580H503L503 580H501L501 580H499L499 580H497L497 580H495L495 580H493L493 580H491L491 580H489L489 580H487L487 580H485L485 580H483L483 580H481L481 580H479L479 580H477L477 580H475L475 580H473L473 580H471L471 580H469L469 580H467L467 580H465L465 580H463L463 580H461L461 580H459L459 580H457L457 580H455L455 580H453L453 580H451L451 580H449L449 580H447L447 580H445L445 580H443L443 580H441L441 580H439L439 580H437L437 580H435L435 580H433L433 580H431L431 580H429L429 580H427L427 580H425L425 580H423L423 580H421L421 580H419L419 580H417L417 580H415L415 580H413L413 580H411L411 580H409L409 580H407L407 580H405L405 580H403L403 580H401L401 580H399L399 580H397L397 580H395L395 580H393L393 580H391L391 580H389L389 580H387L387 580H385L385 580H383L383 580H381L381 580H379L379 580H377L377 580H375L375 580H373L373 580H371L371 580H369L369 580H367L367 580H365L365 580H363L363 580H361L361 580H359L359 580H357L357 580H355L355 580H353L353 580H351L351 580H349L349 580H347L347 580H345L345 580H343L343 580H341L341 580H339L339 580H337L337 580H335L335 580H333L333 580H331L331 580H329L329 580H327L327 580H325L325 580H323L323 580H321L321 580H319L319 580H317L317 580H315L315 580H313L313 580H311L311 580H309L309 580H307L307 580H305L305 580H303L303 580H301L301 580H299L299 580H297L297 580H295L295 580H293L293 580H291L291 580H289L289 580H287L287 580H285L285 580H283L283 580H281L281 580H279L279 580H277L277 580H275L275 580H273L273 580H271L271 580H269L269 580H267L267 580H265L265 580H263L263 580H261L261 580H259L259 580H257L257 580H255L255 580H253L253 580H251L251 580H249L249 580H247L247 580H245L245 580H243L243 580H241L241 580H239L239 580H237L237 580H235L235 580H233L233 580H231L231 580H229L229 580H227L227 580H225L225 580H223L223 580H221L221 580H219L219 580H217L217 580H215L215 580H213L213 580H211L211 580H209L209 580H207L207 580H205L205 580H203L203 580H201L201 580H199L199 580H197L197 580H195L195 580H193L193 580H191L191 580H189L189 580H187L187 580H185L185 580H183L183 580H181L181 580H179L179 580H177L177 580H175L175 580H173L173 580H171L171 580H169L169 580H167L167 580H165L165 580H163L163 580H161L161 580H159L159 580H157L157 580H155L155 580H153L153 580H151L151 580H149L149 580H147L147 580H145L145 580H143L143 580H141L141 580H139L139 580H137L137 580H135L135 580H133L133 580H131L131 580H129L129 580H127L127 580H125L125 580H123L123 580H121L121 580H119L119 580H117L117 580H115L115 580H113L113 580H111L111 580H109L109 580H107L107 580H105L105 580H103L103 580H101L101 580H99L99 580H97L97 580H95L95 580H93L93 580H91L91 580H89L89 580H87L87 580H85L85 580H83L83 580H81L81 580H79L79 580H77L77 580H75L75 580H73L73 580H71L71 580H69L69 580H67L67 580H65L65 580H63L63 580H61L61 580H59L59 580H57L57 580H55L55 580H53L53 580H51Z" fill="#80ff80"/>
<path d="M51 580H53L53 579H55L55 579H57L57 579H59L59 578H61L61 578H63L63 578H65L65 577H67L67 577H69L69 577H71L71 576H73L73 576H75L75 576H77L77 575H79L79 575H81L81 575H83L83 574H85L85 574H87L87 574H89L89 573H91L91 573H93L93 573H95L95 572H97L97 572H99L99 572H101L101 571H103L103 571H105L105 571H107L107 570H109L109 570H111L111 570H113L113 569H115L115 569H117L117 569H119L119 568H121L121 568H123L123 567H125L125 567H127L127 567H129L129 566H131L131 566H133L133 565H135L135 565H137L137 565H139L139 564H141L141 564H143L143 563H145L145 563H147L147 563H149L149 562H151L151 562H153L153 562H155L155 561H157L157 561H159L159 560H161L161 560H163L163 560H165L165 559H167L167 559H169L169 558H171L171 558H173L173 557H175L175 557H177L177 556H179L179 556H181L181 555H183L183 555H185L185 555H187L187 554H189L189 554H191L191 553H193L193 553H195L195 552H197L197 552H199L199 551H201L201 551H203L203 550H205L205 550H207L207 549H209L209 549H211L211 548H213L213 548H215L215 547H217L217 547H219L219 546H221L221 546H223L223 545H225L225 545H227L227 544H229L229 544H231L231 543H233L233 543H235L235 542H237L237 541H239L239 540H241L241 540H243L243 539H245L245 538H247L247 538H249L249 537H251L251 536H253L253 536H255L255 535H257L257 534H259L259 533H261L261 533H263L263 532H265L265 531H267L267 531H269L269 530H271L271 529H273L273 528H275L275 528H277L277 527H279L279 526H281L281 526H283L283 525H285L285 524H287L287 523H289L289 523H291L291 522H293L293 521H295L295 520H297L297 520H299L299 519H301L301 518H303L303 517H305L305 516H307L307 516H309L309 515H311L311 514H313L313 513H315L315 512H317L317 511H319L319 511H321L321 510H323L323 509H325L325 508H327L327 507H329L329 507H331L331 506H333L333 505H335L335 504H337L337 503H339L339 502H341L341 502H343L343 501H345L345 500H347L347 499H349L349 498H351L351 498H353L353 497H355L355 496H357L357 495H359L359 494H361L361 493H363L363 493H365L365 492H367L367 491H369L369 490H371L371 489H373L373 488H375L375 488H377L377 487H379L379 486H381L381 485H383L383 484H385L385 483H387L387 483H389L389 482H391L391 481H393L393 480H395L395 479H397L397 479H399L399 478H401L401 477H403L403 476H405L405 475H407L407 474H409L409 474H411L411 473H413L413 472H415L415 471H417L417 470H419L419 470H421L421 469H423L423 468H425L425 467H427L427 467H429L429 466H431L431 465H433L433 464H435L435 463H437L437 462H439L439 462H441L441 461H443L443 460H445L445 459H447L447 458H449L449 457H451L451 457H453L453 456H455L455 455H457L457 454H459L459 453H461L461 453H463L463 452H465L465 451H467L467 450H469L469 449H471L471 448H473L473 448H475L475 447H477L477 446H479L479 445H481L481 444H483L483 443H485L485 443H487L487 442H489L489 441H491L491 440H493L493 439H495L495 439H497L497 438H499L499 437H501L501 436H503L503 435H505L505 434H507L507 434H509L509 433H511L511 432H513L513 432H515L515 431H517L517 430H519L519 430H521L521 429H523L523 428H525L525 428H527L527 427H529L529 426H531L531 426H533L533 425H535L535 424H537L537 424H539L539 423H541L541 422H543L543 422H545L545 421H547L547 420H549L549 420H551L551 419H553L553 418H555L555 418H557L557 417H559L559 417H561L561 416H563L563 415H565L565 415H567L567 414H569L569 414H571L571 413H573L573 413H575L575 412H577L577 411H579L579 411H581L581 410H583L583 410H585L585 409H587L587 409H589L589 408H591L591 408H593L593 407H595L595 407H597L597 406H599L599 406H601L601 405H603L603 405H605L605 404H607L607 403H609L609 403H611L611 402H613L613 402H615L615 401H617L617 401H619L619 400H621L621 400H623L623 399H625L625 398H627L627 398H629L629 397H631L631 396H633L633 396H635L635 395H637L637 394H639L639 394H641L641 393H643L643 392H645L645 392H647L647 391H649L649 390H651L651 390H653L653 389H655L655 389H657L657 388H659L659 387H661L661 387H663L663 386H665L665 385H667L667 385H669L669 384H671L671 384H673L673 383H675L675 383H677L677 382H679L679 381H681L681 381H683L683 380H685L685 380H687L687 379H689L689 378H691L691 378H693L693 377H695L695 376H697L697 376H699L699 375H701L701 374H703L703 373H705L705 373H707L707 372H709L709 371H711L711 371H713L713 370H715L715 369H717L717 369H719L719 368H721L721 368H723L723 367H725L725 367H727L727 367H729L729 366H731L731 366H733L733 366H735L735 365H737L737 365H739L739 365H741L741 365H743L743 364H745L745 364H747L747 364H749L749 363H751L751 363H753L753 363H755L755 362H757L757 362H759L759 362H761L761 361H763L763 361H765L765 361H767L767 360H769L769 362H767L767 362H765L765 362H763L763 362H761L761 362H759L759 362H757L757 362H755L755 363H753L753 363H751L751 363H749L749 364H747L747 364H745L745 364H743L743 365H741L741 365H739L739 365H737L737 365H735L735 366H733L733 366H731L731 366H729L729 367H727L727 367H725L725 368H723L723 368H721L721 368H719L719 369H717L717 369H715L715 370H713L713 371H711L711 375H709L709 375H707L707 375H705L705 375H703L703 377H701L701 377H699L699 377H697L697 377H695L695 379H693L693 379H691L691 379H689L689 379H687L687 380H685L685 380H683L683 381H681L681 381H679L679 382H677L677 383H675L675 383H673L673 384H671L671 384H669L669 385H667L667 385H665L665 386H663L663 387H661L661 387H659L659 388H657L657 389H655L655 389H653L653 390H651L651 390H649L649 391H647L647 392H645L645 392H643L643 393H641L641 394H639L639 394H637L637 395H635L635 396H633L633 396H631L631 397H629L629 398H627L627 398H625L625 399H623L623 400H621L621 400H619L619 401H617L617 401H615L615 402H613L613 402H611L611 403H609L609 403H607L607 404H605L605 405H603L603 405H601L601 406H599L599 406H597L597 407H595L595 407H593L593 408H591L591 408H589L589 409H587L587 409H585L585 410H583L583 410H581L581 411H579L579 411H577L577 412H575L575 413H573L573 413H571L571 414H569L569 414H567L567 415H565L565 415H563L563 416H561L561 417H559L559 417H557L557 418H555L555 418H553L553 419H551L551 420H549L549 420H547L547 421H545L545 422H543L543 422H541L541 423H539L539 424H537L537 424H535L535 425H533L533 426H531L531 426H529L529 427H527L527 428H525L525 428H523L523 429H521L521 430H519L519 430H517L517 431H515L515 432H513L513 433H511L511 433H509L509 434H507L507 434H505L505 435H503L503 436H501L501 437H499L499 438H497L497 457H495L495 457H493L493 457H491L491 457H489L489 457H487L487 457H485L485 457H483L483 457H481L481 457H479L479 457H477L477 457H475L475 459H473L473 459H471L471 459H469L469 463H467L467 463H465L465 463H463L463 463H461L461 463H459L459 463H457L457 469H455L455 469H453L453 478H451L451 478H449L449 478H447L447 478H445L445 486H443L443 486H441L441 486H439L439 486H437L437 492H435L435 492H433L433 492H431L431 492H429L429 492H427L427 492H425L425 492H423L423 499H421L421 499H419L419 499H417L417 499H415L415 499H413L413 499H411L411 499H409L409 499H407L407 499H405L405 499H403L403 501H401L401 501H399L399 501H397L397 501H395L395 504H393L393 504H391L391 504H389L389 504H387L387 504H385L385 504H383L383 504H381L381 509H379L379 509H377L377 509H375L375 509H373L373 509H371L371 509H369L369 510H367L367 510H365L365 510H363L363 510H361L361 511H359L359 511H357L357 511H355L355 511H353L353 515H351L351 515H349L349 515H347L347 515H345L345 516H343L343 516H341L341 516H339L339 518H337L337 518H335L335 518H333L333 518H331L331 518H329L329 518H327L327 518H325L325 518H323L323 518H321L321 518H319L319 518H317L317 518H315L315 520H313L313 520H311L311 524H309L309 524H307L307 528H305L305 529H303L303 529H301L301 529H299L299 530H297L297 530H295L295 530H293L293 530H291L291 530H289L289 536H287L287 536H285L285 536H283L283 542H281L281 542H279L279 542H277L277 542H275L275 542H273L273 542H271L271 542H269L269 543H267L267 543H265L265 543H263L263 543H261L261 543H259L259 543H257L257 543H255L255 543H253L253 543H251L251 543H249L249 545H247L247 545H245L245 545H243L243 545H241L241 547H239L239 547H237L237 547H235L235 548H233L233 548H231L231 548H229L229 548H227L227 552H225L225 552H223L223 552H221L221 552H219L219 552H217L217 552H215L215 558H213L213 558H211L211 558H209L209 558H207L207 558H205L205 558H203L203 558H201L201 558H199L199 558H197L197 558H195L195 558H193L193 567H191L191 567H189L189 567H187L187 567H185L185 567H183L183 567H181L181 567H179L179 567H177L177 567H175L175 567H173L173 568H171L171 568H169L169 568H167L167 568H165L165 568H163L163 568H161L161 568H159L159 569H157L157 569H155L155 569H153L153 569H151L151 569H149L149 569H147L147 569H145L145 569H143L143 569H141L141 569H139L139 569H137L137 569H135L135 569H133L133 569H131L131 569H129L129 569H127L127 569H125L125 570H123L123 570H121L121 570H119L119 570H117L117 570H115L115 570H113L113 570H111L111 575H109L109 575H107L107 575H105L105 575H103L103 575H101L101 575H99L99 575H97L97 575H95L95 575H93L93 575H91L91 575H89L89 575H87L87 575H85L85 575H83L83 576H81L81 576H79L79 576H77L77 576H75L75 576H73L73 576H71L71 578H69L69 578H67L67 578H65L65 580H63L63 580H61L61 580H59L59 580H57L57 580H55L55 580H53L53 580H51Z" fill="#adab4c"/>
<path d="M51 580H53L53 579H55L55 579H57L57 579H59L59 578H61L61 578H63L63 578H65L65 577H67L67 577H69L69 577H71L71 576H73L73 576H75L75 576H77L77 575H79L79 575H81L81 575H83L83 574H85L85 574H87L87 574H89L89 573H91L91 573H93L93 573H95L95 572H97L97 572H99L99 572H101L101 571H103L103 571H105L105 571H107L107 570H109L109 570H111L111 570H113L113 569H115L115 569H117L117 569H119L119 568H121L121 568H123L123 567H125L125 567H127L127 567H129L129 566H131L131 566H133L133 565H135L135 565H137L137 565H139L139 564H141L141 564H143L143 563H145L145 563H147L147 563H149L149 562H151L151 562H153L153 562H155L155 561H157L157 561H159L159 560H161L161 560H163L163 560H165L165 559H167L167 559H169L169 558H171L171 558H173L173 557H175L175 557H177L177 556H179L179 556H181L181 555H183L183 555H185L185 555H187L187 554H189L189 554H191L191 553H193L193 553H195L195 552H197L197 552H199L199 551H201L201 551H203L203 550H205L205 550H207L207 549H209L209 549H211L211 548H213L213 548H215L215 547H217L217 547H219L219 546H221L221 546H223L223 545H225L225 545H227L227 544H229L229 544H231L231 543H233L233 543H235L235 542H237L237 541H239L239 540H241L241 540H243L243 539H245L245 538H247L247 538H249L249 537H251L251 536H253L253 536H255L255 535H257L257 534H259L259 533H261L261 533H263L263 532H265L265 531H267L267 531H269L269 530H271L271 529H273L273 528H275L275 528H277L277 527H279L279 526H281L281 526H283L283 525H285L285 524H287L287 523H289L289 523H291L291 522H293L293 521H295L295 520H297L297 520H299L299 519H301L301 518H303L303 517H305L305 516H307L307 516H309L309 515H311L311 514H313L313 513H315L315 512H317L317 511H319L319 511H321L321 510H323L323 509H325L325 508H327L327 507H329L329 507H331L331 506H333L333 505H335L335 504H337L337 503H339L339 502H341L341 502H343L343 501H345L345 500H347L347 499H349L349 498H351L351 498H353L353 497H355L355 496H357L357 495H359L359 494H361L361 493H363L363 493H365L365 492H367L367 491H369L369 490H371L371 489H373L373 488H375L375 488H377L377 487H379L379 486H381L381 485H383L383 484H385L385 483H387L387 483H389L389 482H391L391 481H393L393 480H395L395 479H397L397 479H399L399 478H401L401 477H403L403 476H405L405 475H407L407 474H409L409 474H411L411 473H413L413 472H415L415 471H417L417 470H419L419 470H421L421 469H423L423 468H425L425 467H427L427 467H429L429 466H431L431 465H433L433 464H435L435 463H437L437 462H439L439 462H441L441 461H443L443 460H445L445 459H447L447 458H449L449 457H451L451 457H453L453 456H455L455 455H457L457 454H459L459 453H461L461 453H463L463 452H465L465 451H467L467 450H469L469 449H471L471 448H473L473 448H475L475 447H477L477 446H479L479 445H481L481 444H483L483 443H485L485 443H487L487 442H489L489 441H491L491 440H493L493 439H495L495 439H497L497 436H499L499 436H501L501 436H503L503 433H505L505 433H507L507 433H509L509 433H511L511 432H513L513 428H515L515 428H517L517 428H519L519 428H521L521 424H523L523 424H525L525 424H527L527 414H529L529 414H531L531 414H533L533 414H535L535 414H537L537 414H539L539 413H541L541 413H543L543 413H545L545 413H547L547 413H549L549 413H551L551 411H553L553 411H555L555 411H557L557 411H559L559 411H561L561 411H563L563 411H565L565 410H567L567 410H569L569 410H571L571 410H573L573 410H575L575 410H577L577 408H579L579 408H581L581 408H583L583 408H585L585 408H587L587 407H589L589 407H591L591 407H593L593 404H595L595 404H597L597 398H599L599 398H601L601 398H603L603 398H605L605 398H607L607 393H609L609 393H611L611 393H613L613 393H615L615 393H617L617 393H619L619 391H621L621 391H623L623 391H625L625 391H627L627 389H629L629 389H631L631 389H633L633 389H635L635 389H637L637 389H639L639 389H641L641 389H643L643 389H645L645 389H647L647 383H649L649 383H651L651 383H653L653 383H655L655 381H657L657 381H659L659 381H661L661 380H663L663 380H665L665 380H667L667 380H669L669 380H671L671 380H673L673 380H675L675 380H677L677 380H679L679 380H681L681 380H683L683 380H685L685 380H687L687 379H689L689 378H691L691 378H693L693 377H695L695 376H697L697 376H699L699 375H701L701 374H703L703 373H705L705 373H707L707 372H709L709 371H711L711 368H713L713 368H715L715 368H717L717 368H719L719 368H721L721 368H723L723 367H725L725 365H727L727 365H729L729 365H731L731 365H733L733 365H735L735 365H737L737 365H739L739 363H741L741 363H743L743 363H745L745 363H747L747 363H749L749 362H751L751 362H753L753 362H755L755 362H757L757 362H759L759 362H761L761 361H763L763 361H765L765 361H767L767 360H769L769 360H767L767 361H765L765 361H763L763 361H761L761 362H759L759 362H757L757 362H755L755 363H753L753 363H751L751 363H749L749 364H747L747 364H745L745 364H743L743 365H741L741 365H739L739 365H737L737 365H735L735 366H733L733 366H731L731 366H729L729 367H727L727 367H725L725 367H723L723 368H721L721 368H719L719 369H717L717 369H715L715 370H713L713 371H711L711 371H709L709 372H707L707 373H705L705 373H703L703 374H701L701 375H699L699 376H697L697 376H695L695 377H693L693 378H691L691 378H689L689 379H687L687 380H685L685 380H683L683 381H681L681 381H679L679 382H677L677 383H675L675 383H673L673 384H671L671 384H669L669 385H667L667 385H665L665 386H663L663 387H661L661 387H659L659 388H657L657 389H655L655 389H653L653 390H651L651 390H649L649 391H647L647 392H645L645 392H643L643 393H641L641 394H639L639 394H637L637 395H635L635 396H633L633 396H631L631 397H629L629 398H627L627 398H625L625 399H623L623 400H621L621 400H619L619 401H617L617 401H615L615 402H613L613 402H611L611 403H609L609 403H607L607 404H605L605 405H603L603 405H601L601 406H599L599 406H597L597 407H595L595 407H593L593 408H591L591 408H589L589 409H587L587 409H585L585 410H583L583 410H581L581 411H579L579 411H577L577 412H575L575 413H573L573 413H571L571 414H569L569 414H567L567 415H565L565 415H563L563 416H561L561 417H559L559 417H557L557 418H555L555 418H553L553 419H551L551 420H549L549 420H547L547 421H545L545 422H543L543 422H541L541 423H539L539 424H537L537 424H535L535 425H533L533 426H531L531 426H529L529 427H527L527 428H525L525 428H523L523 429H521L521 430H519L519 430H517L517 431H515L515 432H513L513 432H511L511 433H509L509 434H507L507 434H505L505 435H503L503 436H501L501 437H499L499 438H497L497 439H495L495 439H493L493 440H491L491 441H489L489 442H487L487 443H485L485 443H483L483 444H481L481 445H479L479 446H477L477 447H475L475 448H473L473 448H471L471 449H469L469 450H467L467 451H465L465 452H463L463 453H461L461 453H459L459 454H457L457 455H455L455 456H453L453 457H451L451 457H449L449 458H447L447 459H445L445 460H443L443 461H441L441 462H439L439 462H437L437 463H435L435 464H433L433 465H431L431 466H429L429 467H427L427 467H425L425 468H423L423 469H421L421 470H419L419 470H417L417 471H415L415 472H413L413 473H411L411 474H409L409 474H407L407 475H405L405 476H403L403 477H401L401 478H399L399 479H397L397 479H395L395 480H393L393 481H391L391 482H389L389 483H387L387 483H385L385 484H383L383 485H381L381 486H379L379 487H377L377 488H375L375 488H373L373 489H371L371 490H369L369 491H367L367 492H365L365 493H363L363 493H361L361 494H359L359 495H357L357 496H355L355 497H353L353 498H351L351 498H349L349 499H347L347 500H345L345 501H343L343 502H341L341 502H339L339 503H337L337 504H335L335 505H333L333 506H331L331 507H329L329 507H327L327 508H325L325 509H323L323 510H321L321 511H319L319 511H317L317 512H315L315 513H313L313 514H311L311 515H309L309 516H307L307 516H305L305 517H303L303 518H301L301 519H299L299 520H297L297 520H295L295 521H293L293 522H291L291 523H289L289 523H287L287 524H285L285 525H283L283 526H281L281 526H279L279 527H277L277 528H275L275 528H273L273 529H271L271 530H269L269 531H267L267 531H265L265 532H263L263 533H261L261 533H259L259 534H257L257 535H255L255 536H253L253 536H251L251 537H249L249 538H247L247 538H245L245 539H243L243 540H241L241 540H239L239 541H237L237 542H235L235 543H233L233 543H231L231 544H229L229 544H227L227 545H225L225 545H223L223 546H221L221 546H219L219 547H217L217 547H215L215 548H213L213 548H211L211 549H209L209 549H207L207 550H205L205 550H203L203 551H201L201 551H199L199 552H197L197 552H195L195 553H193L193 553H191L191 554H189L189 554H187L187 555H185L185 555H183L183 555H181L181 556H179L179 556H177L177 557H175L175 557H173L173 558H171L171 558H169L169 559H167L167 559H165L165 560H163L163 560H161L161 560H159L159 561H157L157 561H155L155 562H153L153 562H151L151 562H149L149 563H147L147 563H145L145 563H143L143 564H141L141 564H139L139 565H137L137 565H135L135 565H133L133 566H131L131 566H129L129 567H127L127 567H125L125 567H123L123 568H121L121 568H119L119 569H117L117 569H115L115 569H113L113 570H111L111 570H109L109 570H107L107 571H105L105 571H103L103 571H101L101 572H99L99 572H97L97 572H95L95 573H93L93 573H91L91 573H89L89 574H87L87 574H85L85 574H83L83 575H81L81 575H79L79 575H77L77 576H75L75 576H73L73 576H71L71 577H69L69 577H67L67 577H65L65 578H63L63 578H61L61 578H59L59 579H57L57 579H55L55 579H53L53 580H51Z" fill="#006600"/>
<path d="M51 680H53L53 680H55L55 680H57L57 680H59L59 680H61L61 680H63L63 680H65L65 676H67L67 676H69L69 669H71L71 669H73L73 669H75L75 669H77L77 669H79L79 669H81L81 669H83L83 669H85L85 669H87L87 666H89L89 666H91L91 666H93L93 666H95L95 666H97L97 666H99L99 666H101L101 666H103L103 666H105L105 666H107L107 666H109L109 666H111L111 666H113L113 666H115L115 666H117L117 666H119L119 666H121L121 666H123L123 666H125L125 666H127L127 663H129L129 663H131L131 663H133L133 662H135L135 662H137L137 655H139L139 655H141L141 655H143L143 655H145L145 655H147L147 655H149L149 655H151L151 655H153L153 655H155L155 655H157L157 655H159L159 655H161L161 655H163L163 655H165L165 655H167L167 655H169L169 655H171L171 651H173L173 649H175L175 649H177L177 649H179L179 649H181L181 649H183L183 649H185L185 649H187L187 649H189L189 649H191L191 649H193L193 649H195L195 649H197L197 649H199L199 649H201L201 649H203L203 649H205L205 649H207L207 649H209L209 649H211L211 649H213L213 649H215L215 649H217L217 649H219L219 649H221L221 649H223L223 649H225L225 649H227L227 649H229L229 649H231L231 649H233L233 649H235L235 649H237L237 649H239L239 649H241L241 649H243L243 648H245L245 648H247L247 648H249L249 648H251L251 648H253L253 648H255L255 648H257L257 648H259L259 648H261L261 648H263L263 648H265L265 648H267L267 648H269L269 648H271L271 648H273L273 648H275L275 648H277L277 648H279L279 648H281L281 648H283L283 648H285L285 648H287L287 648H289L289 648H291L291 648H293L293 648H295L295 648H297L297 648H299L299 648H301L301 648H303L303 648H305L305 648H307L307 648H309L309 648H311L311 648H313L313 648H315L315 648H317L317 648H319L319 648H321L321 648H323L323 648H325L325 648H327L327 648H329L329 648H331L331 648H333L333 648H335L335 648H337L337 648H339L339 648H341L341 648H343L343 648H345L345 648H347L347 648H349L349 648H351L351 648H353L353 648H355L355 648H357L357 648H359L359 648H361L361 648H363L363 648H365L365 648H367L367 648H369L369 648H371L371 648H373L373 648H375L375 648H377L377 648H379L379 648H381L381 648H383L383 648H385L385 648H387L387 648H389L389 648H391L391 648H393L393 648H395L395 648H397L397 648H399L399 648H401L401 648H403L403 648H405L405 648H407L407 648H409L409 648H411L411 648H413L413 648H415L415 648H417L417 648H419L419 648H421L421 648H423L423 648H425L425 648H427L427 648H429L429 648H431L431 648H433L433 648H435L435 648H437L437 648H439L439 648H441L441 648H443L443 648H445L445 648H447L447 648H449L449 648H451L451 648H453L453 648H455L455 648H457L457 648H459L459 648H461L461 648H463L463 648H465L465 648H467L467 648H469L469 648H471L471 648H473L473 648H475L475 648H477L477 648H479L479 648H481L481 648H483L483 648H485L485 648H487L487 648H489L489 648H491L491 648H493L493 648H495L495 648H497L497 648H499L499 648H501L501 648H503L503 648H505L505 648H507L507 648H509L509 648H511L511 648H513L513 648H515L515 648H517L517 648H519L519 648H521L521 648H523L523 648H525L525 648H527L527 648H529L529 648H531L531 648H533L533 648H535L535 648H537L537 648H539L539 648H541L541 648H543L543 648H545L545 648H547L547 648H549L549 648H551L551 648H553L553 648H555L555 648H557L557 648H559L559 648H561L561 648H563L563 648H565L565 648H567L567 648H569L569 648H571L571 648H573L573 648H575L575 648H577L577 648H579L579 648H581L581 648H583L583 648H585L585 648H587L587 648H589L589 648H591L591 648H593L593 648H595L595 648H597L597 648H599L599 648H601L601 648H603L603 648H605L605 648H607L607 648H609L609 648H611L611 648H613L613 648H615L615 648H617L617 648H619L619 648H621L621 648H623L623 648H625L625 648H627L627 648H629L629 648H631L631 648H633L633 648H635L635 648H637L637 648H639L639 648H641L641 648H643L643 648H645L645 648H647L647 648H649L649 648H651L651 648H653L653 648H655L655 648H657L657 648H659L659 648H661L661 648H663L663 648H665L665 648H667L667 648H669L669 648H671L671 648H673L673 648H675L675 648H677L677 648H679L679 648H681L681 648H683L683 648H685L685 648H687L687 648H689L689 648H691L691 648H693L693 648H695L695 648H697L697 648H699L699 648H701L701 648H703L703 648H705L705 648H707L707 648H709L709 648H711L711 648H713L713 648H715L715 648H717L717 648H719L719 648H721L721 648H723L723 648H725L725 626H727L727 626H729L729 626H731L731 626H733L733 626H735L735 626H737L737 619H739L739 609H741L741 609H743L743 609H745L745 609H747L747 609H749L749 606H751L751 606H753L753 603H755L755 602H757L757 601H759L759 600H761L761 600H763L763 600H765L765 600H767L767 600H769L769 680H767L767 680H765L765 680H763L763 680H761L761 680H759L759 680H757L757 680H755L755 680H753L753 680H751L751 680H749L749 680H747L747 680H745L745 680H743L743 680H741L741 680H739L739 680H737L737 680H735L735 680H733L733 680H731L731 680H729L729 680H727L727 680H725L725 680H723L723 680H721L721 680H719L719 680H717L717 680H715L715 680H713L713 680H711L711 680H709L709 680H707L707 680H705L705 680H703L703 680H701L701 680H699L699 680H697L697 680H695L695 680H693L693 680H691L691 680H689L689 680H687L687 680H685L685 680H683L683 680H681L681 680H679L679 680H677L677 680H675L675 680H673L673 680H671L671 680H669L669 680H667L667 680H665L665 680H663L663 680H661L661 680H659L659 680H657L657 680H655L655 680H653L653 680H651L651 680H649L649 680H647L647 680H645L645 680H643L643 680H641L641 680H639L639 680H637L637 680H635L635 680H633L633 680H631L631 680H629L629 680H627L627 680H625L625 680H623L623 680H621L621 680H619L619 680H617L617 680H615L615 680H613L613 680H611L611 680H609L609 680H607L607 680H605L605 680H603L603 680H601L601 680H599L599 680H597L597 680H595L595 680H593L593 680H591L591 680H589L589 680H587L587 680H585L585 680H583L583 680H581L581 680H579L579 680H577L577 680H575L575 680H573L573 680H571L571 680H569L569 680H567L567 680H565L565 680H563L563 680H561L561 680H559L559 680H557L557 680H555L555 680H553L553 680H551L551 680H549L549 680H547L547 680H545L545 680H543L543 680H541L541 680H539L539 680H537L537 680H535L535 680H533L533 680H531L531 680H529L529 680H527L527 680H525L525 680H523L523 680H521L521 680H519L519 680H517L517 680H515L515 680H513L513 680H511L511 680H509L509 680H507L507 680H505L505 680H503L503 680H501L501 680H499L499 680H497L497 680H495L495 680H493L493 680H491L491 680H489L489 680H487L487 680H485L485 680H483L483 680H481L481 680H479L479 680H477L477 680H475L475 680H473L473 680H471L471 680H469L469 680H467L467 680H465L465 680H463L463 680H461L461 680H459L459 680H457L457 680H455L455 680H453L453 680H451L451 680H449L449 680H447L447 680H445L445 680H443L443 680H441L441 680H439L439 680H437L437 680H435L435 680H433L433 680H431L431 680H429L429 680H427L427 680H425L425 680H423L423 680H421L421 680H419L419 680H417L417 680H415L415 680H413L413 680H411L411 680H409L409 680H407L407 680H405L405 680H403L403 680H401L401 680H399L399 680H397L397 680H395L395 680H393L393 680H391L391 680H389L389 680H387L387 680H385L385 680H383L383 680H381L381 680H379L379 680H377L377 680H375L375 680H373L373 680H371L371 680H369L369 680H367L367 680H365L365 680H363L363 680H361L361 680H359L359 680H357L357 680H355L355 680H353L353 680H351L351 680H349L349 680H347L347 680H345L345 680H343L343 680H341L341 680H339L339 680H337L337 680H335L335 680H333L333 680H331L331 680H329L329 680H327L327 680H325L325 680H323L323 680H321L321 680H319L319 680H317L317 680H315L315 680H313L313 680H311L311 680H309L309 680H307L307 680H305L305 680H303L303 680H301L301 680H299L299 680H297L297 680H295L295 680H293L293 680H291L291 680H289L289 680H287L287 680H285L285 680H283L283 680H281L281 680H279L279 680H277L277 680H275L275 680H273L273 680H271L271 680H269L269 680H267L267 680H265L265 680H263L263 680H261L261 680H259L259 680H257L257 680H255L255 680H253L253 680H251L251 680H249L249 680H247L247 680H245L245 680H243L243 680H241L241 680H239L239 680H237L237 680H235L235 680H233L233 680H231L231 680H229L229 680H227L227 680H225L225 680H223L223 680H221L221 680H219L219 680H217L217 680H215L215 680H213L213 680H211L211 680H209L209 680H207L207 680H205L205 680H203L203 680H201L201 680H199L199 680H197L197 680H195L195 680H193L193 680H191L191 680H189L189 680H187L187 680H185L185 680H183L183 680H181L181 680H179L179 680H177L177 680H175L175 680H173L173 680H171L171 680H169L169 680H167L167 680H165L165 680H163L163 680H161L161 680H159L159 680H157L157 680H155L155 680H153L153 680H151L151 680H149L149 680H147L147 680H145L145 680H143L143 680H141L141 680H139L139 680H137L137 680H135L135 680H133L133 680H131L131 680H129L129 680H127L127 680H125L125 680H123L123 680H121L121 680H119L119 680H117L117 680H115L115 680H113L113 680H111L111 680H109L109 680H107L107 680H105L105 680H103L103 680H101L101 680H99L99 680H97L97 680H95L95 680H93L93 680H91L91 680H89L89 680H87L87 680H85L85 680H83L83 680H81L81 680H79L79 680H77L77 680H75L75 680H73L73 680H71L71 680H69L69 680H67L67 680H65L65 680H63L63 680H61L61 680H59L59 680H57L57 680H55L55 680H53L53 680H51Z" fill="#80ff80"/>
<path d="M51 679H53L53 678H55L55 677H57L57 676H59L59 675H61L61 674H63L63 672H65L65 671H67L67 670H69L69 669H71L71 668H73L73 667H75L75 666H77L77 665H79L79 664H81L81 663H83L83 662H85L85 661H87L87 660H89L89 659H91L91 658H93L93 657H95L95 656H97L97 655H99L99 654H101L101 653H103L103 652H105L105 651H107L107 650H109L109 649H111L111 648H113L113 648H115L115 647H117L117 646H119L119 646H121L121 645H123L123 644H125L125 644H127L127 643H129L129 642H131L131 642H133L133 641H135L135 640H137L137 640H139L139 639H141L141 639H143L143 638H145L145 638H147L147 637H149L149 636H151L151 636H153L153 635H155L155 635H157L157 634H159L159 634H161L161 633H163L163 633H165L165 632H167L167 631H169L169 631H171L171 630H173L173 630H175L175 629H177L177 628H179L179 628H181L181 627H183L183 627H185L185 626H187L187 625H189L189 625H191L191 624H193L193 624H195L195 623H197L197 623H199L199 623H201L201 622H203L203 622H205L205 622H207L207 622H209L209 621H211L211 621H213L213 621H215L215 621H217L217 621H219L219 620H221L221 620H223L223 620H225L225 620H227L227 620H229L229 620H231L231 620H233L233 620H235L235 620H237L237 620H239L239 620H241L241 619H243L243 619H245L245 619H247L247 619H249L249 619H251L251 619H253L253 619H255L255 619H257L257 619H259L259 619H261L261 619H263L263 619H265L265 619H267L267 619H269L269 618H271L271 618H273L273 618H275L275 618H277L277 618H279L279 618H281L281 618H283L283 618H285L285 618H287L287 618H289L289 618H291L291 618H293L293 618H295L295 618H297L297 618H299L299 618H301L301 618H303L303 618H305L305 618H307L307 618H309L309 618H311L311 618H313L313 618H315L315 618H317L317 618H319L319 618H321L321 618H323L323 618H325L325 618H327L327 618H329L329 618H331L331 618H333L333 618H335L335 618H337L337 618H339L339 618H341L341 618H343L343 618H345L345 618H347L347 618H349L349 618H351L351 618H353L353 618H355L355 618H357L357 618H359L359 618H361L361 618H363L363 618H365L365 618H367L367 618H369L369 618H371L371 618H373L373 618H375L375 618H377L377 618H379L379 618H381L381 618H383L383 618H385L385 618H387L387 618H389L389 618H391L391 618H393L393 618H395L395 618H397L397 618H399L399 618H401L401 618H403L403 618H405L405 618H407L407 618H409L409 618H411L411 618H413L413 618H415L415 618H417L417 618H419L419 618H421L421 618H423L423 618H425L425 618H427L427 618H429L429 618H431L431 618H433L433 618H435L435 618H437L437 618H439L439 618H441L441 618H443L443 618H445L445 618H447L447 618H449L449 618H451L451 618H453L453 618H455L455 618H457L457 618H459L459 618H461L461 618H463L463 618H465L465 618H467L467 618H469L469 618H471L471 618H473L473 618H475L475 618H477L477 618H479L479 618H481L481 618H483L483 618H485L485 618H487L487 618H489L489 618H491L491 618H493L493 618H495L495 618H497L497 618H499L499 618H501L501 618H503L503 618H505L505 618H507L507 618H509L509 618H511L511 618H513L513 618H515L515 618H517L517 618H519L519 618H521L521 618H523L523 618H525L525 618H527L527 618H529L529 618H531L531 618H533L533 618H535L535 618H537L537 618H539L539 618H541L541 618H543L543 618H545L545 618H547L547 618H549L549 618H551L551 618H553L553 618H555L555 618H557L557 618H559L559 618H561L561 618H563L563 618H565L565 618H567L567 618H569L569 618H571L571 618H573L573 618H575L575 618H577L577 618H579L579 618H581L581 618H583L583 618H585L585 618H587L587 618H589L589 618H591L591 618H593L593 618H595L595 618H597L597 618H599L599 618H601L601 618H603L603 618H605L605 618H607L607 618H609L609 618H611L611 618H613L613 618H615L615 618H617L617 618H619L619 618H621L621 618H623L623 618H625L625 618H627L627 618H629L629 618H631L631 618H633L633 618H635L635 618H637L637 618H639L639 618H641L641 618H643L643 618H645L645 618H647L647 618H649L649 618H651L651 618H653L653 618H655L655 618H657L657 618H659L659 618H661L661 618H663L663 618H665L665 618H667L667 618H669L669 618H671L671 618H673L673 618H675L675 618H677L677 618H679L679 618H681L681 618H683L683 618H685L685 618H687L687 618H689L689 618H691L691 618H693L693 618H695L695 617H697L697 617H699L699 617H701L701 617H703L703 617H705L705 617H707L707 617H709L709 617H711L711 616H713L713 616H715L715 616H717L717 616H719L719 616H721L721 615H723L723 615H725L725 614H727L727 613H729L729 613H731L731 612H733L733 612H735L735 611H737L737 610H739L739 609H741L741 608H743L743 607H745L745 606H747L747 605H749L749 605H751L751 604H753L753 603H755L755 602H757L757 601H759L759 600H761L761 599H763L763 598H765L765 597H767L767 596H769L769 600H767L767 600H765L765 600H763L763 600H761L761 600H759L759 601H757L757 602H755L755 603H753L753 606H751L751 606H749L749 609H747L747 609H745L745 609H743L743 609H741L741 609H739L739 619H737L737 626H735L735 626H733L733 626H731L731 626H729L729 626H727L727 626H725L725 648H723L723 648H721L721 648H719L719 648H717L717 648H715L715 648H713L713 648H711L711 648H709L709 648H707L707 648H705L705 648H703L703 648H701L701 648H699L699 648H697L697 648H695L695 648H693L693 648H691L691 648H689L689 648H687L687 648H685L685 648H683L683 648H681L681 648H679L679 648H677L677 648H675L675 648H673L673 648H671L671 648H669L669 648H667L667 648H665L665 648H663L663 648H661L661 648H659L659 648H657L657 648H655L655 648H653L653 648H651L651 648H649L649 648H647L647 648H645L645 648H643L643 648H641L641 648H639L639 648H637L637 648H635L635 648H633L633 648H631L631 648H629L629 648H627L627 648H625L625 648H623L623 648H621L621 648H619L619 648H617L617 648H615L615 648H613L613 648H611L611 648H609L609 648H607L607 648H605L605 648H603L603 648H601L601 648H599L599 648H597L597 648H595L595 648H593L593 648H591L591 648H589L589 648H587L587 648H585L585 648H583L583 648H581L581 648H579L579 648H577L577 648H575L575 648H573L573 648H571L571 648H569L569 648H567L567 648H565L565 648H563L563 648H561L561 648H559L559 648H557L557 648H555L555 648H553L553 648H551L551 648H549L549 648H547L547 648H545L545 648H543L543 648H541L541 648H539L539 648H537L537 648H535L535 648H533L533 648H531L531 648H529L529 648H527L527 648H525L525 648H523L523 648H521L521 648H519L519 648H517L517 648H515L515 648H513L513 648H511L511 648H509L509 648H507L507 648H505L505 648H503L503 648H501L501 648H499L499 648H497L497 648H495L495 648H493L493 648H491L491 648H489L489 648H487L487 648H485L485 648H483L483 648H481L481 648H479L479 648H477L477 648H475L475 648H473L473 648H471L471 648H469L469 648H467L467 648H465L465 648H463L463 648H461L461 648H459L459 648H457L457 648H455L455 648H453L453 648H451L451 648H449L449 648H447L447 648H445L445 648H443L443 648H441L441 648H439L439 648H437L437 648H435L435 648H433L433 648H431L431 648H429L429 648H427L427 648H425L425 648H423L423 648H421L421 648H419L419 648H417L417 648H415L415 648H413L413 648H411L411 648H409L409 648H407L407 648H405L405 648H403L403 648H401L401 648H399L399 648H397L397 648H395L395 648H393L393 648H391L391 648H389L389 648H387L387 648H385L385 648H383L383 648H381L381 648H379L379 648H377L377 648H375L375 648H373L373 648H371L371 648H369L369 648H367L367 648H365L365 648H363L363 648H361L361 648H359L359 648H357L357 648H355L355 648H353L353 648H351L351 648H349L349 648H347L347 648H345L345 648H343L343 648H341L341 648H339L339 648H337L337 648H335L335 648H333L333 648H331L331 648H329L329 648H327L327 648H325L325 648H323L323 648H321L321 648H319L319 648H317L317 648H315L315 648H313L313 648H311L311 648H309L309 648H307L307 648H305L305 648H303L303 648H301L301 648H299L299 648H297L297 648H295L295 648H293L293 648H291L291 648H289L289 648H287L287 648H285L285 648H283L283 648H281L281 648H279L279 648H277L277 648H275L275 648H273L273 648H271L271 648H269L269 648H267L267 648H265L265 648H263L263 648H261L261 648H259L259 648H257L257 648H255L255 648H253L253 648H251L251 648H249L249 648H247L247 648H245L245 648H243L243 649H241L241 649H239L239 649H237L237 649H235L235 649H233L233 649H231L231 649H229L229 649H227L227 649H225L225 649H223L223 649H221L221 649H219L219 649H217L217 649H215L215 649H213L213 649H211L211 649H209L209 649H207L207 649H205L205 649H203L203 649H201L201 649H199L199 649H197L197 649H195L195 649H193L193 649H191L191 649H189L189 649H187L187 649H185L185 649H183L183 649H181L181 649H179L179 649H177L177 649H175L175 649H173L173 651H171L171 655H169L169 655H167L167 655H165L165 655H163L163 655H161L161 655H159L159 655H157L157 655H155L155 655H153L153 655H151L151 655H149L149 655H147L147 655H145L145 655H143L143 655H141L141 655H139L139 655H137L137 662H135L135 662H133L133 663H131L131 663H129L129 663H127L127 666H125L125 666H123L123 666H121L121 666H119L119 666H117L117 666H115L115 666H113L113 666H111L111 666H109L109 666H107L107 666H105L105 666H103L103 666H101L101 666H99L99 666H97L97 666H95L95 666H93L93 666H91L91 666H89L89 666H87L87 669H85L85 669H83L83 669H81L81 669H79L79 669H77L77 669H75L75 669H73L73 669H71L71 669H69L69 676H67L67 676H65L65 680H63L63 680H61L61 680H59L59 680H57L57 680H55L55 680H53L53 680H51Z" fill="#adab4c"/>
<path d="M51 679H53L53 678H55L55 677H57L57 676H59L59 675H61L61 674H63L63 672H65L65 671H67L67 670H69L69 669H71L71 668H73L73 667H75L75 666H77L77 665H79L79 664H81L81 663H83L83 662H85L85 661H87L87 660H89L89 659H91L91 658H93L93 657H95L95 656H97L97 655H99L99 654H101L101 653H103L103 652H105L105 651H107L107 650H109L109 649H111L111 648H113L113 648H115L115 647H117L117 646H119L119 646H121L121 645H123L123 644H125L125 644H127L127 643H129L129 642H131L131 642H133L133 641H135L135 640H137L137 640H139L139 639H141L141 639H143L143 638H145L145 638H147L147 637H149L149 636H151L151 636H153L153 635H155L155 635H157L157 634H159L159 634H161L161 633H163L163 633H165L165 632H167L167 631H169L169 631H171L171 630H173L173 630H175L175 629H177L177 628H179L179 628H181L181 627H183L183 627H185L185 626H187L187 625H189L189 625H191L191 624H193L193 624H195L195 623H197L197 623H199L199 623H201L201 622H203L203 622H205L205 622H207L207 622H209L209 621H211L211 621H213L213 621H215L215 621H217L217 621H219L219 620H221L221 620H223L223 620H225L225 620H227L227 620H229L229 620H231L231 620H233L233 620H235L235 620H237L237 620H239L239 620H241L241 619H243L243 619H245L245 619H247L247 619H249L249 619H251L251 619H253L253 619H255L255 619H257L257 619H259L259 619H261L261 619H263L263 619H265L265 619H267L267 619H269L269 618H271L271 618H273L273 618H275L275 618H277L277 618H279L279 618H281L281 618H283L283 618H285L285 618H287L287 618H289L289 618H291L291 618H293L293 618H295L295 618H297L297 618H299L299 618H301L301 618H303L303 618H305L305 618H307L307 618H309L309 618H311L311 618H313L313 618H315L315 618H317L317 618H319L319 618H321L321 618H323L323 618H325L325 618H327L327 618H329L329 618H331L331 618H333L333 618H335L335 618H337L337 618H339L339 618H341L341 618H343L343 618H345L345 618H347L347 618H349L349 618H351L351 618H353L353 618H355L355 618H357L357 618H359L359 618H361L361 618H363L363 618H365L365 618H367L367 618H369L369 618H371L371 618H373L373 618H375L375 618H377L377 618H379L379 618H381L381 618H383L383 618H385L385 618H387L387 618H389L389 618H391L391 618H393L393 618H395L395 618H397L397 618H399L399 618H401L401 618H403L403 618H405L405 618H407L407 618H409L409 618H411L411 618H413L413 618H415L415 618H417L417 618H419L419 618H421L421 618H423L423 618H425L425 618H427L427 618H429L429 618H431L431 618H433L433 618H435L435 618H437L437 618H439L439 618H441L441 618H443L443 618H445L445 618H447L447 618H449L449 618H451L451 618H453L453 618H455L455 618H457L457 618H459L459 618H461L461 618H463L463 618H465L465 618H467L467 618H469L469 618H471L471 618H473L473 618H475L475 618H477L477 618H479L479 618H481L481 618H483L483 618H485L485 618H487L487 618H489L489 618H491L491 618H493L493 618H495L495 618H497L497 618H499L499 618H501L501 618H503L503 618H505L505 618H507L507 618H509L509 618H511L511 618H513L513 618H515L515 618H517L517 618H519L519 618H521L521 618H523L523 618H525L525 618H527L527 618H529L529 618H531L531 618H533L533 618H535L535 618H537L537 618H539L539 618H541L541 618H543L543 618H545L545 618H547L547 618H549L549 618H551L551 618H553L553 618H555L555 618H557L557 618H559L559 618H561L561 618H563L563 618H565L565 618H567L567 618H569L569 618H571L571 618H573L573 618H575L575 618H577L577 618H579L579 618H581L581 618H583L583 618H585L585 618H587L587 618H589L589 618H591L591 618H593L593 618H595L595 618H597L597 618H599L599 618H601L601 618H603L603 618H605L605 618H607L607 618H609L609 618H611L611 618H613L613 618H615L615 618H617L617 618H619L619 618H621L621 618H623L623 618H625L625 618H627L627 618H629L629 618H631L631 618H633L633 618H635L635 618H637L637 618H639L639 618H641L641 618H643L643 618H645L645 618H647L647 618H649L649 618H651L651 618H653L653 618H655L655 618H657L657 618H659L659 618H661L661 618H663L663 618H665L665 618H667L667 618H669L669 618H671L671 618H673L673 618H675L675 618H677L677 618H679L679 618H681L681 618H683L683 618H685L685 618H687L687 618H689L689 618H691L691 618H693L693 618H695L695 617H697L697 617H699L699 617H701L701 617H703L703 617H705L705 617H707L707 617H709L709 617H711L711 616H713L713 616H715L715 616H717L717 616H719L719 616H721L721 615H723L723 615H725L725 614H727L727 613H729L729 613H731L731 612H733L733 612H735L735 611H737L737 610H739L739 609H741L741 608H743L743 607H745L745 606H747L747 605H749L749 605H751L751 604H753L753 600H755L755 600H757L757 600H759L759 600H761L761 599H763L763 598H765L765 597H767L767 596H769L769 596H767L767 597H765L765 598H763L763 599H761L761 600H759L759 601H757L757 602H755L755 603H753L753 604H751L751 605H749L749 605H747L747 606H745L745 607H743L743 608H741L741 609H739L739 610H737L737 611H735L735 612H733L733 612H731L731 613H729L729 613H727L727 614H725L725 615H723L723 615H721L721 616H719L719 616H717L717 616H715L715 616H713L713 616H711L711 617H709L709 617H707L707 617H705L705 617H703L703 617H701L701 617H699L699 617H697L697 617H695L695 618H693L693 618H691L691 618H689L689 618H687L687 618H685L685 618H683L683 618H681L681 618H679L679 618H677L677 618H675L675 618H673L673 618H671L671 618H669L669 618H667L667 618H665L665 618H663L663 618H661L661 618H659L659 618H657L657 618H655L655 618H653L653 618H651L651 618H649L649 618H647L647 618H645L645 618H643L643 618H641L641 618H639L639 618H637L637 618H635L635 618H633L633 618H631L631 618H629L629 618H627L627 618H625L625 618H623L623 618H621L621 618H619L619 618H617L617 618H615L615 618H613L613 618H611L611 618H609L609 618H607L607 618H605L605 618H603L603 618H601L601 618H599L599 618H597L597 618H595L595 618H593L593 618H591L591 618H589L589 618H587L587 618H585L585 618H583L583 618H581L581 618H579L579 618H577L577 618H575L575 618H573L573 618H571L571 618H569L569 618H567L567 618H565L565 618H563L563 618H561L561 618H559L559 618H557L557 618H555L555 618H553L553 618H551L551 618H549L549 618H547L547 618H545L545 618H543L543 618H541L541 618H539L539 618H537L537 618H535L535 618H533L533 618H531L531 618H529L529 618H527L527 618H525L525 618H523L523 618H521L521 618H519L519 618H517L517 618H515L515 618H513L513 618H511L511 618H509L509 618H507L507 618H505L505 618H503L503 618H501L501 618H499L499 618H497L497 618H495L495 618H493L493 618H491L491 618H489L489 618H487L487 618H485L485 618H483L483 618H481L481 618H479L479 618H477L477 618H475L475 618H473L473 618H471L471 618H469L469 618H467L467 618H465L465 618H463L463 618H461L461 618H459L459 618H457L457 618H455L455 618H453L453 618H451L451 618H449L449 618H447L447 618H445L445 618H443L443 618H441L441 618H439L439 618H437L437 618H435L435 618H433L433 618H431L431 618H429L429 618H427L427 618H425L425 618H423L423 618H421L421 618H419L419 618H417L417 618H415L415 618H413L413 618H411L411 618H409L409 618H407L407 618H405L405 618H403L403 618H401L401 618H399L399 618H397L397 618H395L395 618H393L393 618H391L391 618H389L389 618H387L387 618H385L385 618H383L383 618H381L381 618H379L379 618H377L377 618H375L375 618H373L373 618H371L371 618H369L369 618H367L367 618H365L365 618H363L363 618H361L361 618H359L359 618H357L357 618H355L355 618H353L353 618H351L351 618H349L349 618H347L347 618H345L345 618H343L343 618H341L341 618H339L339 618H337L337 618H335L335 618H333L333 618H331L331 618H329L329 618H327L327 618H325L325 618H323L323 618H321L321 618H319L319 618H317L317 618H315L315 618H313L313 618H311L311 618H309L309 618H307L307 618H305L305 618H303L303 618H301L301 618H299L299 618H297L297 618H295L295 618H293L293 618H291L291 618H289L289 618H287L287 618H285L285 618H283L283 618H281L281 618H279L279 618H277L277 618H275L275 618H273L273 618H271L271 618H269L269 619H267L267 619H265L265 619H263L263 619H261L261 619H259L259 619H257L257 619H255L255 619H253L253 619H251L251 619H249L249 619H247L247 619H245L245 619H243L243 619H241L241 620H239L239 620H237L237 620H235L235 620H233L233 620H231L231 620H229L229 620H227L227 620H225L225 620H223L223 620H221L221 620H219L219 621H217L217 621H215L215 621H213L213 621H211L211 621H209L209 622H207L207 622H205L205 622H203L203 622H201L201 623H199L199 623H197L197 623H195L195 624H193L193 624H191L191 625H189L189 625H187L187 626H185L185 627H183L183 627H181L181 628H179L179 628H177L177 629H175L175 630H173L173 630H171L171 631H169L169 631H167L167 632H165L165 633H163L163 633H161L161 634H159L159 634H157L157 635H155L155 635H153L153 636H151L151 636H149L149 637H147L147 638H145L145 638H143L143 639H141L141 639H139L139 640H137L137 640H135L135 641H133L133 642H131L131 642H129L129 643H127L127 644H125L125 644H123L123 645H121L121 646H119L119 646H117L117 647H115L115 648H113L113 648H111L111 649H109L109 650H107L107 651H105L105 652H103L103 653H101L101 654H99L99 655H97L97 656H95L95 657H93L93 658H91L91 659H89L89 660H87L87 661H85L85 662H83L83 663H81L81 664H79L79 665H77L77 666H75L75 667H73L73 668H71L71 669H69L69 670H67L67 671H65L65 672H63L63 674H61L61 675H59L59 676H57L57 677H55L55 678H53L53 679H51Z" fill="#006600"/>
<path d="M51 580.5H53L53 579.5H55L55 579.5H57L57 579.5H59L59 578.5H61L61 578.5H63L63 578.5H65L65 577.5H67L67 577.5H69L69 577.5H71L71 576.5H73L73 576.5H75L75 576.5H77L77 575.5H79L79 575.5H81L81 575.5H83L83 574.5H85L85 574.5H87L87 574.5H89L89 573.5H91L91 573.5H93L93 573.5H95L95 572.5H97L97 572.5H99L99 572.5H101L101 571.5H103L103 571.5H105L105 571.5H107L107 570.5H109L109 570.5H111L111 570.5H113L113 569.5H115L115 569.5H117L117 569.5H119L119 568.5H121L121 568.5H123L123 567.5H125L125 567.5H127L127 567.5H129L129 566.5H131L131 566.5H133L133 565.5H135L135 565.5H137L137 565.5H139L139 564.5H141L141 564.5H143L143 563.5H145L145 563.5H147L147 563.5H149L149 562.5H151L151 562.5H153L153 562.5H155L155 561.5H157L157 561.5H159L159 560.5H161L161 560.5H163L163 560.5H165L165 559.5H167L167 559.5H169L169 558.5H171L171 558.5H173L173 557.5H175L175 557.5H177L177 556.5H179L179 556.5H181L181 555.5H183L183 555.5H185L185 555.5H187L187 554.5H189L189 554.5H191L191 553.5H193L193 553.5H195L195 552.5H197L197 552.5H199L199 551.5H201L201 551.5H203L203 550.5H205L205 550.5H207L207 549.5H209L209 549.5H211L211 548.5H213L213 548.5H215L215 547.5H217L217 547.5H219L219 546.5H221L221 546.5H223L223 545.5H225L225 545.5H227L227 544.5H229L229 544.5H231L231 543.5H233L233 543.5H235L235 542.5H237L237 541.5H239L239 540.5H241L241 540.5H243L243 539.5H245L245 538.5H247L247 538.5H249L249 537.5H251L251 536.5H253L253 536.5H255L255 535.5H257L257 534.5H259L259 533.5H261L261 533.5H263L263 532.5H265L265 531.5H267L267 531.5H269L269 530.5H271L271 529.5H273L273 528.5H275L275 528.5H277L277 527.5H279L279 526.5H281L281 526.5H283L283 525.5H285L285 524.5H287L287 523.5H289L289 523.5H291L291 522.5H293L293 521.5H295L295 520.5H297L297 520.5H299L299 519.5H301L301 518.5H303L303 517.5H305L305 516.5H307L307 516.5H309L309 515.5H311L311 514.5H313L313 513.5H315L315 512.5H317L317 511.5H319L319 511.5H321L321 510.5H323L323 509.5H325L325 508.5H327L327 507.5H329L329 507.5H331L331 506.5H333L333 505.5H335L335 504.5H337L337 503.5H339L339 502.5H341L341 502.5H343L343 501.5H345L345 500.5H347L347 499.5H349L349 498.5H351L351 498.5H353L353 497.5H355L355 496.5H357L357 495.5H359L359 494.5H361L361 493.5H363L363 493.5H365L365 492.5H367L367 491.5H369L369 490.5H371L371 489.5H373L373 488.5H375L375 488.5H377L377 487.5H379L379 486.5H381L381 485.5H383L383 484.5H385L385 483.5H387L387 483.5H389L389 482.5H391L391 481.5H393L393 480.5H395L395 479.5H397L397 479.5H399L399 478.5H401L401 477.5H403L403 476.5H405L405 475.5H407L407 474.5H409L409 474.5H411L411 473.5H413L413 472.5H415L415 471.5H417L417 470.5H419L419 470.5H421L421 469.5H423L423 468.5H425L425 467.5H427L427 467.5H429L429 466.5H431L431 465.5H433L433 464.5H435L435 463.5H437L437 462.5H439L439 462.5H441L441 461.5H443L443 460.5H445L445 459.5H447L447 458.5H449L449 457.5H451L451 457.5H453L453 456.5H455L455 455.5H457L457 454.5H459L459 453.5H461L461 453.5H463L463 452.5H465L465 451.5H467L467 450.5H469L469 449.5H471L471 448.5H473L473 448.5H475L475 447.5H477L477 446.5H479L479 445.5H481L481 444.5H483L483 443.5H485L485 443.5H487L487 442.5H489L489 441.5H491L491 440.5H493L493 439.5H495L495 439.5H497L497 438.5H499L499 437.5H501L501 436.5H503L503 435.5H505L505 434.5H507L507 434.5H509L509 433.5H511L511 432.5H513L513 432.5H515L515 431.5H517L517 430.5H519L519 430.5H521L521 429.5H523L523 428.5H525L525 428.5H527L527 427.5H529L529 426.5H531L531 426.5H533L533 425.5H535L535 424.5H537L537 424.5H539L539 423.5H541L541 422.5H543L543 422.5H545L545 421.5H547L547 420.5H549L549 420.5H551L551 419.5H553L553 418.5H555L555 418.5H557L557 417.5H559L559 417.5H561L561 416.5H563L563 415.5H565L565 415.5H567L567 414.5H569L569 414.5H571L571 413.5H573L573 413.5H575L575 412.5H577L577 411.5H579L579 411.5H581L581 410.5H583L583 410.5H585L585 409.5H587L587 409.5H589L589 408.5H591L591 408.5H593L593 407.5H595L595 407.5H597L597 406.5H599L599 406.5H601L601 405.5H603L603 405.5H605L605 404.5H607L607 403.5H609L609 403.5H611L611 402.5H613L613 402.5H615L615 401.5H617L617 401.5H619L619 400.5H621L621 400.5H623L623 399.5H625L625 398.5H627L627 398.5H629L629 397.5H631L631 396.5H633L633 396.5H635L635 395.5H637L637 394.5H639L639 394.5H641L641 393.5H643L643 392.5H645L645 392.5H647L647 391.5H649L649 390.5H651L651 390.5H653L653 389.5H655L655 389.5H657L657 388.5H659L659 387.5H661L661 387.5H663L663 386.5H665L665 385.5H667L667 385.5H669L669 384.5H671L671 384.5H673L673 383.5H675L675 383.5H677L677 382.5H679L679 381.5H681L681 381.5H683L683 380.5H685L685 380.5H687L687 379.5H689L689 378.5H691L691 378.5H693L693 377.5H695L695 376.5H697L697 376.5H699L699 375.5H701L701 374.5H703L703 373.5H705L705 373.5H707L707 372.5H709L709 371.5H711L711 371.5H713L713 370.5H715L715 369.5H717L717 369.5H719L719 368.5H721L721 368.5H723L723 367.5H725L725 367.5H727L727 367.5H729L729 366.5H731L731 366.5H733L733 366.5H735L735 365.5H737L737 365.5H739L739 365.5H741L741 365.5H743L743 364.5H745L745 364.5H747L747 364.5H749L749 363.5H751L751 363.5H753L753 363.5H755L755 362.5H757L757 362.5H759L759 362.5H761L761 361.5H763L763 361.5H765L765 361.5H767L767 360.5H769L769 360.5H771L771 360.5H773L773 359.5H775L775 359.5H777L777 358.5H779L779 358.5H780" fill="none" stroke="#ffff33" stroke-width="1"/>
<path d="M51 679.5H53L53 678.5H55L55 677.5H57L57 676.5H59L59 675.5H61L61 674.5H63L63 672.5H65L65 671.5H67L67 670.5H69L69 669.5H71L71 668.5H73L73 667.5H75L75 666.5H77L77 665.5H79L79 664.5H81L81 663.5H83L83 662.5H85L85 661.5H87L87 660.5H89L89 659.5H91L91 658.5H93L93 657.5H95L95 656.5H97L97 655.5H99L99 654.5H101L101 653.5H103L103 652.5H105L105 651.5H107L107 650.5H109L109 649.5H111L111 648.5H113L113 648.5H115L115 647.5H117L117 646.5H119L119 646.5H121L121 645.5H123L123 644.5H125L125 644.5H127L127 643.5H129L129 642.5H131L131 642.5H133L133 641.5H135L135 640.5H137L137 640.5H139L139 639.5H141L141 639.5H143L143 638.5H145L145 638.5H147L147 637.5H149L149 636.5H151L151 636.5H153L153 635.5H155L155 635.5H157L157 634.5H159L159 634.5H161L161 633.5H163L163 633.5H165L165 632.5H167L167 631.5H169L169 631.5H171L171 630.5H173L173 630.5H175L175 629.5H177L177 628.5H179L179 628.5H181L181 627.5H183L183 627.5H185L185 626.5H187L187 625.5H189L189 625.5H191L191 624.5H193L193 624.5H195L195 623.5H197L197 623.5H199L199 623.5H201L201 622.5H203L203 622.5H205L205 622.5H207L207 622.5H209L209 621.5H211L211 621.5H213L213 621.5H215L215 621.5H217L217 621.5H219L219 620.5H221L221 620.5H223L223 620.5H225L225 620.5H227L227 620.5H229L229 620.5H231L231 620.5H233L233 620.5H235L235 620.5H237L237 620.5H239L239 620.5H241L241 619.5H243L243 619.5H245L245 619.5H247L247 619.5H249L249 619.5H251L251 619.5H253L253 619.5H255L255 619.5H257L257 619.5H259L259 619.5H261L261 619.5H263L263 619.5H265L265 619.5H267L267 619.5H269L269 618.5H271L271 618.5H273L273 618.5H275L275 618.5H277L277 618.5H279L279 618.5H281L281 618.5H283L283 618.5H285L285 618.5H287L287 618.5H289L289 618.5H291L291 618.5H293L293 618.5H295L295 618.5H297L297 618.5H299L299 618.5H301L301 618.5H303L303 618.5H305L305 618.5H307L307 618.5H309L309 618.5H311L311 618.5H313L313 618.5H315L315 618.5H317L317 618.5H319L319 618.5H321L321 618.5H323L323 618.5H325L325 618.5H327L327 618.5H329L329 618.5H331L331 618.5H333L333 618.5H335L335 618.5H337L337 618.5H339L339 618.5H341L341 618.5H343L343 618.5H345L345 618.5H347L347 618.5H349L349 618.5H351L351 618.5H353L353 618.5H355L355 618.5H357L357 618.5H359L359 618.5H361L361 618.5H363L363 618.5H365L365 618.5H367L367 618.5H369L369 618.5H371L371 618.5H373L373 618.5H375L375 618.5H377L377 618.5H379L379 618.5H381L381 618.5H383L383 618.5H385L385 618.5H387L387 618.5H389L389 618.5H391L391 618.5H393L393 618.5H395L395 618.5H397L397 618.5H399L399 618.5H401L401 618.5H403L403 618.5H405L405 618.5H407L407 618.5H409L409 618.5H411L411 618.5H413L413 618.5H415L415 618.5H417L417 618.5H419L419 618.5H421L421 618.5H423L423 618.5H425L425 618.5H427L427 618.5H429L429 618.5H431L431 618.5H433L433 618.5H435L435 618.5H437L437 618.5H439L439 618.5H441L441 618.5H443L443 618.5H445L445 618.5H447L447 618.5H449L449 618.5H451L451 618.5H453L453 618.5H455L455 618.5H457L457 618.5H459L459 618.5H461L461 618.5H463L463 618.5H465L465 618.5H467L467 618.5H469L469 618.5H471L471 618.5H473L473 618.5H475L475 618.5H477L477 618.5H479L479 618.5H481L481 618.5H483L483 618.5H485L485 618.5H487L487 618.5H489L489 618.5H491L491 618.5H493L493 618.5H495L495 618.5H497L497 618.5H499L499 618.5H501L501 618.5H503L503 618.5H505L505 618.5H507L507 618.5H509L509 618.5H511L511 618.5H513L513 618.5H515L515 618.5H517L517 618.5H519L519 618.5H521L521 618.5H523L523 618.5H525L525 618.5H527L527 618.5H529L529 618.5H531L531 618.5H533L533 618.5H535L535 618.5H537L537 618.5H539L539 618.5H541L541 618.5H543L543 618.5H545L545 618.5H547L547 618.5H549L549 618.5H551L551 618.5H553L553 618.5H555L555 618.5H557L557 618.5H559L559 618.5H561L561 618.5H563L563 618.5H565L565 618.5H567L567 618.5H569L569 618.5H571L571 618.5H573L573 618.5H575L575 618.5H577L577 618.5H579L579 618.5H581L581 618.5H583L583 618.5H585L585 618.5H587L587 618.5H589L589 618.5H591L591 618.5H593L593 618.5H595L595 618.5H597L597 618.5H599L599 618.5H601L601 618.5H603L603 618.5H605L605 618.5H607L607 618.5H609L609 618.5H611L611 618.5H613L613 618.5H615L615 618.5H617L617 618.5H619L619 618.5H621L621 618.5H623L623 618.5H625L625 618.5H627L627 618.5H629L629 618.5H631L631 618.5H633L633 618.5H635L635 618.5H637L637 618.5H639L639 618.5H641L641 618.5H643L643 618.5H645L645 618.5H647L647 618.5H649L649 618.5H651L651 618.5H653L653 618.5H655L655 618.5H657L657 618.5H659L659 618.5H661L661 618.5H663L663 618.5H665L665 618.5H667L667 618.5H669L669 618.5H671L671 618.5H673L673 618.5H675L675 618.5H677L677 618.5H679L679 618.5H681L681 618.5H683L683 618.5H685L685 618.5H687L687 618.5H689L689 618.5H691L691 618.5H693L693 618.5H695L695 617.5H697L697 617.5H699L699 617.5H701L701 617.5H703L703 617.5H705L705 617.5H707L707 617.5H709L709 617.5H711L711 616.5H713L713 616.5H715L715 616.5H717L717 616.5H719L719 616.5H721L721 615.5H723L723 615.5H725L725 614.5H727L727 613.5H729L729 613.5H731L731 612.5H733L733 612.5H735L735 611.5H737L737 610.5H739L739 609.5H741L741 608.5H743L743 607.5H745L745 606.5H747L747 605.5H749L749 605.5H751L751 604.5H753L753 603.5H755L755 602.5H757L757 601.5H759L759 600.5H761L761 599.5H763L763 598.5H765L765 597.5H767L767 596.5H769L769 596.5H771L771 595.5H773L773 594.5H775L775 593.5H777L777 592.5H779L779 591.5H780" fill="none" stroke="#ffff33" stroke-width="1"/>
</g>
<defs><clipPath id="plotclip"><rect x="50" y="30" width="730" height="650"/></clipPath></defs>
<g stroke="#3c3c3c" stroke-width="1" stroke-dasharray="3 3" shape-rendering="crispEdges" fill="none" clip-path="url(#plotclip)">
<path d="M111.5 29V680"/>
<path d="M169.5 26V680"/>
<path d="M231.5 29V680"/>
<path d="M291.5 26V680"/>
<path d="M353.5 29V680"/>
<path d="M413.5 26V680"/>
<path d="M475.5 29V680"/>
<path d="M537.5 26V680"/>
<path d="M597.5 29V680"/>
<path d="M659.5 26V680"/>
<path d="M719.5 29V680"/>
<path d="M50 50.5H780"/>
<path d="M48 90.5H780"/>
<path d="M46 130.5H780"/>
<path d="M50 170.5H780"/>
<path d="M48 210.5H780"/>
<path d="M46 250.5H780"/>
<path d="M50 290.5H780"/>
<path d="M46 357.5H780"/>
<path d="M50 385.5H780"/>
<path d="M48 413.5H780"/>
<path d="M46 441.5H780"/>
<path d="M50 468.5H780"/>
<path d="M48 496.5H780"/>
<path d="M46 524.5H780"/>
<path d="M50 552.5H780"/>
<path d="M46 605.5H780"/>
<path d="M50 630.5H780"/>
<path d="M48 655.5H780"/>
</g>
<g stroke="#000" stroke-width="1" fill="none" shape-rendering="crispEdges">
<rect x="50.5" y="30.5" width="729" height="650"/>
<path d="M50 330.5H780M50 580.5H780"/>
</g>
<g font-size="11.7">
<text x="45" y="55.5" text-anchor="end">110</text>
<text x="784.6" y="55.5">110</text>
<text x="45" y="95.5" text-anchor="end">90</text>
<text x="784.6" y="95.5">90</text>
<text x="45" y="135.5" text-anchor="end">70</text>
<text x="784.6" y="135.5">70</text>
<text x="45" y="175.5" text-anchor="end">50</text>
<text x="784.6" y="175.5">50</text>
<text x="45" y="215.5" text-anchor="end">30</text>
<text x="784.6" y="215.5">30</text>
<text x="45" y="255.5" text-anchor="end">10</text>
<text x="784.6" y="255.5">10</text>
<text x="45" y="295.5" text-anchor="end">-10</text>
<text x="784.6" y="295.5">-10</text>
<text x="45" y="335.5" text-anchor="end">-30</text>
<text x="784.6" y="335.5">-30</text>
<text x="45" y="557.5" text-anchor="end">5</text>
<text x="784.6" y="557.5">5</text>
<text x="45" y="529.5" text-anchor="end">10</text>
<text x="784.6" y="529.5">10</text>
<text x="45" y="501.5" text-anchor="end">15</text>
<text x="784.6" y="501.5">15</text>
<text x="45" y="473.5" text-anchor="end">20</text>
<text x="784.6" y="473.5">20</text>
<text x="45" y="446.5" text-anchor="end">25</text>
<text x="784.6" y="446.5">25</text>
<text x="45" y="418.5" text-anchor="end">30</text>
<text x="784.6" y="418.5">30</text>
<text x="45" y="390.5" text-anchor="end">35</text>
<text x="784.6" y="390.5">35</text>
<text x="45" y="362.5" text-anchor="end">40</text>
<text x="784.6" y="362.5">40</text>
<text x="45" y="660.5" text-anchor="end">9</text>
<text x="784.6" y="660.5">9</text>
<text x="45" y="635.5" text-anchor="end">18</text>
<text x="784.6" y="635.5">18</text>
<text x="45" y="610.5" text-anchor="end">27</text>
<text x="784.6" y="610.5">27</text>
</g>
<g font-size="13">
<text x="50.2" y="692.7" dx="0 1.2 1.5">Jan</text>
<text x="111" y="692.7" letter-spacing="1.3">Feb</text>
<text x="169" y="692.7" letter-spacing="0.2">Mar</text>
<text x="231" y="692.7" letter-spacing="0.5">Apr</text>
<text x="291" y="692.7" letter-spacing="0.7">May</text>
<text x="354.0" y="692.7" letter-spacing="1.5">Jun</text>
<text x="414.5" y="692.7" letter-spacing="1.6">Jul</text>
<text x="475" y="692.7" letter-spacing="1.8">Aug</text>
<text x="537" y="692.7" letter-spacing="1.6">Sep</text>
<text x="597" y="692.7" letter-spacing="1.6">Oct</text>
<text x="659" y="692.7" letter-spacing="1.1">Nov</text>
<text x="719" y="692.7" letter-spacing="0.8">Dec</text>
<rect x="50" y="705" width="41" height="6" fill="#ccccff" shape-rendering="crispEdges"/>
<text x="93.1" y="709.6" textLength="72.6" lengthAdjust="spacing">Record Min</text>
<rect x="200" y="705" width="41" height="6" fill="#ffcccc" shape-rendering="crispEdges"/>
<text x="243.1" y="709.6" textLength="77.3" lengthAdjust="spacing">Record Max</text>
<rect x="350" y="705" width="41" height="6" fill="#ccffcc" shape-rendering="crispEdges"/>
<text x="393.1" y="709.6" textLength="46.5" lengthAdjust="spacing">Normal</text>
<rect x="500" y="705" width="41" height="6" fill="#adab4c" shape-rendering="crispEdges"/>
<text x="543.1" y="709.6" textLength="92.0" lengthAdjust="spacing">Below Normal</text>
<rect x="650" y="705" width="41" height="6" fill="#006600" shape-rendering="crispEdges"/>
<text x="693.1" y="709.6" textLength="94.4" lengthAdjust="spacing">Above Normal</text>
</g>
<text x="272.9" y="24.5" font-size="18.3" textLength="281.6" lengthAdjust="spacingAndGlyphs" style="white-space:pre">ROMEOVILLE  WFO, IL - 2016</text>
<g font-size="16.3" text-anchor="middle">
<text transform="translate(27.2 179.35) rotate(-90)" textLength="170.7" lengthAdjust="spacingAndGlyphs">Temperature (Deg F)</text>
<text transform="translate(27 455) rotate(-90)" textLength="173.2" lengthAdjust="spacingAndGlyphs">Precipitation (Inches)</text>
<text transform="translate(26.6 631.55) rotate(-90)" textLength="114.1" lengthAdjust="spacingAndGlyphs">Snow (inches)</text>
</g>
<text x="706.6" y="358.4" font-size="14.7" textLength="44.5" lengthAdjust="spacingAndGlyphs">39.31</text>
<text x="712" y="596.6" font-size="15.8" textLength="37.5" lengthAdjust="spacingAndGlyphs">28.9</text>
<g transform="translate(74.05 53.6)">
<rect x="-21.05" y="-21" width="41.3" height="42" fill="#fff"/>
<circle r="19" fill="none" stroke="#b9b2e6" stroke-width="0.5"/>
<defs><path id="ringT" d="M-17.1 2.2A17.25 17.25 0 1 1 17.1 2.2"/><path id="ringB" d="M-16.6 6.3A17.8 17.8 0 0 0 16.6 6.3"/></defs>
<text font-size="3.1" font-weight="bold" fill="#5d50c4" font-family='"DejaVu Sans", sans-serif' letter-spacing="0.1"><textPath href="#ringT" textLength="57" lengthAdjust="spacingAndGlyphs">NATIONAL OCEANIC AND ATMOSPHERIC ADMINISTRATION</textPath></text>
<text font-size="3.1" font-weight="bold" fill="#5d50c4" font-family='"DejaVu Sans", sans-serif' letter-spacing="0.1"><textPath href="#ringB" startOffset="3" textLength="33" lengthAdjust="spacingAndGlyphs">U.S. DEPARTMENT OF COMMERCE</textPath></text>
<circle r="16.3" fill="#6655bb"/>
<path d="M-13.1 -9.7A16.3 16.3 0 0 1 12.9 -10C11 -7 8.5 -4 6.1 -1.5C4.5 0.3 3 2 2.2 2.3C0.5 3.3 -0.5 3.2 -1 2.95C-2.5 2.2 -3.8 1 -4.8 -0.2C-6 -1.7 -7 -3.2 -8 -4.7C-9 -6.2 -10 -7.6 -10.9 -8.4C-11.6 -9 -12.4 -9.5 -13.1 -9.7Z" fill="#1f0096"/>
<path d="M-13.1 -9.7C-12.4 -9.5 -11.6 -9 -10.9 -8.4C-10 -7.6 -9 -6.2 -8 -4.7C-7 -3.2 -6 -1.7 -4.8 -0.2C-3.8 1 -2.5 2.2 -1 2.95C-0.5 3.2 0.5 3.3 2.2 2.3C3 2 4.5 0.3 6.1 -1.5C8.5 -4 11 -7 12.9 -10A16.3 16.3 0 0 1 14.9 -6.6C13.2 -5.2 11.8 -3.9 10.6 -2.7C9.3 -1.4 8 0 6.8 1.1C5.5 2.2 4.5 3 3.5 3.7L8.3 3.1L8 3.8C5 4.6 1 5.6 -2 6.6C-3.2 7.1 -4.3 7.5 -5.3 7.8L-4.9 7C-4 6.5 -3.3 6.1 -2.8 5.7C-4.4 4.9 -5.9 4 -7.35 2.95C-8.9 1.8 -10.3 0.6 -11.8 -0.55C-13.2 -1.6 -14.6 -2.6 -16 -3.4A16.3 16.3 0 0 1 -13.1 -9.7Z" fill="#fff"/>
<text x="0" y="-5.05" font-size="5.6" font-weight="bold" fill="#fff" text-anchor="middle" font-family='"DejaVu Sans", sans-serif' textLength="13.6" lengthAdjust="spacingAndGlyphs">NOAA</text>
</g>
</svg>
</body></html>
